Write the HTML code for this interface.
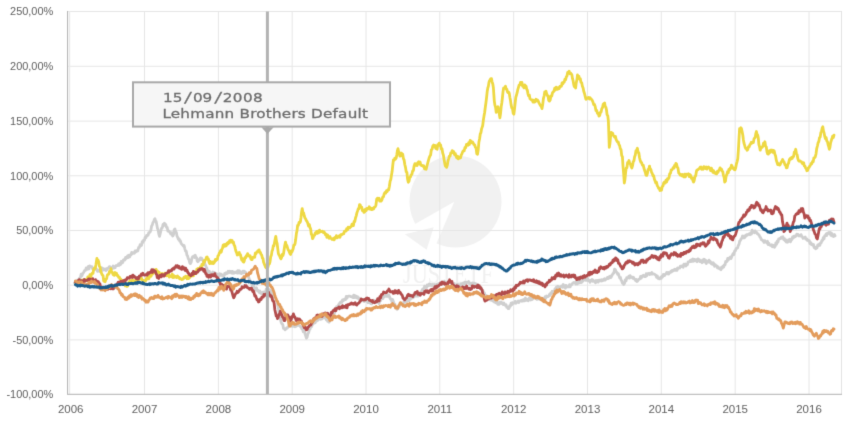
<!DOCTYPE html>
<html><head><meta charset="utf-8"><title>Chart</title>
<style>html,body{margin:0;padding:0;background:#fff;width:847px;height:428px;overflow:hidden}svg{display:block}</style>
</head><body>
<div id="c"><svg width="847" height="428" viewBox="0 0 847 428">
<defs><filter id="soft" x="0" y="0" width="100%" height="100%" color-interpolation-filters="sRGB"><feConvolveMatrix order="3" kernelMatrix="0.0081 0.0900 0.0081 0.0900 0.6076 0.0900 0.0081 0.0900 0.0081" edgeMode="duplicate"/></filter></defs><g filter="url(#soft)"><rect x="0" y="0" width="847" height="428" fill="#ffffff"/>
<circle cx="455.5" cy="201.5" r="46" fill="#f1f1f1"/>
<polygon points="454.3,201.8 404,230.2 404,253 432.4,253" fill="#ffffff"/>
<polygon points="404.9,234.3 433.7,227.3 426.6,249.7" fill="#f1f1f1"/>
<text x="448" y="283" text-anchor="middle" font-family="Liberation Serif, serif" font-size="28" fill="#f0f0f0" textLength="90" lengthAdjust="spacingAndGlyphs">JUSTETF</text>
<line x1="67" y1="11.5" x2="842" y2="11.5" stroke="#e6e6e6" stroke-width="1"/>
<line x1="67" y1="66.3" x2="842" y2="66.3" stroke="#e6e6e6" stroke-width="1"/>
<line x1="67" y1="121.1" x2="842" y2="121.1" stroke="#e6e6e6" stroke-width="1"/>
<line x1="67" y1="175.8" x2="842" y2="175.8" stroke="#e6e6e6" stroke-width="1"/>
<line x1="67" y1="230.5" x2="842" y2="230.5" stroke="#e6e6e6" stroke-width="1"/>
<line x1="67" y1="285.2" x2="842" y2="285.2" stroke="#e6e6e6" stroke-width="1"/>
<line x1="67" y1="339.9" x2="842" y2="339.9" stroke="#e6e6e6" stroke-width="1"/>
<line x1="69.4" y1="11" x2="69.4" y2="394" stroke="#e9e9e9" stroke-width="1.6"/>
<line x1="144.5" y1="11" x2="144.5" y2="394" stroke="#e6e6e6" stroke-width="1"/>
<line x1="218.4" y1="11" x2="218.4" y2="394" stroke="#e6e6e6" stroke-width="1"/>
<line x1="292.2" y1="11" x2="292.2" y2="394" stroke="#e6e6e6" stroke-width="1"/>
<line x1="366.0" y1="11" x2="366.0" y2="394" stroke="#e6e6e6" stroke-width="1"/>
<line x1="439.8" y1="11" x2="439.8" y2="394" stroke="#e6e6e6" stroke-width="1"/>
<line x1="513.7" y1="11" x2="513.7" y2="394" stroke="#e6e6e6" stroke-width="1"/>
<line x1="587.5" y1="11" x2="587.5" y2="394" stroke="#e6e6e6" stroke-width="1"/>
<line x1="661.3" y1="11" x2="661.3" y2="394" stroke="#e6e6e6" stroke-width="1"/>
<line x1="735.2" y1="11" x2="735.2" y2="394" stroke="#e6e6e6" stroke-width="1"/>
<line x1="809.0" y1="11" x2="809.0" y2="394" stroke="#e6e6e6" stroke-width="1"/>
<line x1="841.5" y1="11" x2="841.5" y2="394" stroke="#e3e3e3" stroke-width="1"/>
<line x1="67.5" y1="11" x2="67.5" y2="394.5" stroke="#b8b8b8" stroke-width="1"/>
<line x1="67" y1="394.3" x2="842" y2="394.3" stroke="#c0c0c0" stroke-width="1.2"/>
<polyline points="74.5,283.0 75.2,282.5 75.9,281.2 76.6,283.5 77.3,280.2 78.0,281.0 78.7,279.9 79.3,278.4 80.0,278.0 80.6,276.9 81.2,274.1 81.9,275.9 82.5,274.0 83.2,272.9 84.0,271.7 84.7,270.4 85.5,270.3 86.2,267.8 87.0,268.0 87.7,269.2 88.4,266.3 89.0,268.9 89.7,265.8 90.4,266.5 91.1,266.7 91.9,266.6 92.6,268.7 93.4,268.5 94.1,269.2 94.8,269.4 95.4,267.8 96.1,269.2 96.8,269.3 97.5,271.4 98.1,270.5 98.8,270.1 99.5,271.4 100.3,269.7 101.0,270.4 101.8,267.8 102.5,270.3 103.3,268.6 104.0,269.0 104.7,269.8 105.3,269.1 106.0,270.5 106.7,268.8 107.3,269.4 108.0,268.0 108.7,267.8 109.3,266.6 110.0,266.6 110.6,267.4 111.2,268.4 111.9,267.5 112.6,268.4 113.2,266.0 113.9,268.1 114.6,267.3 115.2,267.6 115.9,265.6 116.5,265.8 117.2,265.2 117.9,265.6 118.5,264.0 119.2,265.4 119.9,263.2 120.6,264.6 121.2,261.4 121.9,263.0 122.7,262.6 123.4,260.0 124.2,259.5 124.9,260.0 125.6,257.4 126.3,258.3 127.0,256.8 127.7,255.8 128.4,257.5 129.0,255.3 129.7,256.9 130.4,254.7 131.1,254.8 131.7,252.3 132.4,253.5 133.1,253.0 133.7,252.5 134.4,253.3 135.1,250.9 135.8,251.8 136.4,250.8 137.1,251.2 137.8,250.9 138.6,247.5 139.3,247.6 140.1,244.8 140.8,245.8 141.5,245.4 142.2,241.7 142.9,242.3 143.6,240.2 144.4,240.4 145.1,237.3 145.9,237.8 146.6,235.4 147.4,235.5 148.1,235.0 148.8,232.7 149.5,232.6 150.2,231.8 150.9,229.9 151.6,226.1 152.3,225.0 153.0,222.4 153.6,221.8 154.3,219.6 154.9,218.7 155.5,220.9 156.1,221.4 156.7,224.3 157.4,228.1 158.1,230.0 158.8,233.8 159.5,236.4 160.2,233.7 160.9,230.7 161.6,228.2 162.3,227.8 163.0,224.5 163.7,225.6 164.4,223.3 165.1,224.0 165.8,224.7 166.5,227.4 167.2,227.5 167.9,231.2 168.6,230.7 169.3,231.7 170.0,232.4 170.7,233.9 171.4,232.7 172.1,235.2 172.8,236.0 173.5,234.7 174.2,229.8 174.9,228.9 175.6,231.5 176.3,232.3 177.0,236.0 177.7,237.3 178.4,239.4 179.0,238.7 179.7,241.1 180.3,240.6 181.0,243.0 181.8,244.4 182.5,244.7 183.3,246.0 184.0,245.4 184.8,248.6 185.5,251.1 186.2,251.1 186.9,255.0 187.6,256.1 188.3,258.7 189.0,259.6 189.7,262.6 190.4,263.6 191.2,262.0 191.9,258.3 192.7,256.6 193.3,256.8 194.0,256.0 194.7,257.5 195.3,255.3 195.9,257.3 196.6,257.5 197.2,261.0 197.8,261.7 198.5,261.1 199.1,259.4 199.8,259.7 200.4,257.9 201.1,259.6 201.7,258.3 202.3,259.6 203.0,260.4 203.7,262.1 204.3,261.4 204.9,264.0 205.6,265.6 206.2,266.9 206.8,267.9 207.5,271.6 208.1,270.7 208.7,272.2 209.4,271.4 210.0,273.6 210.7,274.3 211.4,273.1 212.1,273.3 212.8,272.0 213.5,272.8 214.2,272.5 214.9,273.9 215.6,273.2 216.3,274.7 217.0,274.1 217.7,275.8 218.4,274.6 219.1,275.7 219.8,273.8 220.6,275.4 221.3,274.2 222.0,275.5 222.7,276.1 223.4,275.1 224.1,275.5 224.7,273.5 225.4,274.3 226.1,272.8 226.8,273.6 227.5,273.1 228.2,271.2 228.9,272.7 229.6,271.2 230.3,272.4 231.0,271.5 231.7,273.1 232.3,271.4 233.0,273.4 233.7,272.1 234.3,273.0 235.0,272.1 235.6,272.5 236.3,272.0 237.0,273.1 237.8,270.7 238.5,273.0 239.3,270.8 240.0,273.1 240.8,272.1 241.5,273.6 242.2,272.9 242.9,271.1 243.7,272.8 244.4,271.2 245.1,272.5 245.8,272.5 246.6,273.8 247.4,275.0 248.1,276.7 248.9,277.8 249.5,279.8 250.2,280.8 250.8,282.0 251.5,283.2 252.1,285.1 252.9,287.6 253.6,286.1 254.4,288.9 255.2,289.3 255.8,289.9 256.5,287.8 257.1,290.5 257.8,290.2 258.4,291.4 259.2,292.4 259.9,291.0 260.7,293.4 261.5,293.5 262.1,293.2 262.8,292.1 263.4,293.8 264.1,292.0 264.7,292.5 265.5,292.7 266.2,289.2 267.0,289.8 267.8,289.3 268.4,290.3 269.1,289.6 269.7,291.4 270.4,289.9 271.0,291.4 271.8,293.4 272.6,293.9 273.3,295.6 274.1,296.7 274.7,298.0 275.4,298.0 276.0,300.4 276.7,300.6 277.3,302.0 277.9,306.0 278.6,309.3 279.2,314.0 279.9,315.2 280.6,320.2 281.2,322.3 282.0,324.0 282.7,324.3 283.5,328.5 284.2,328.7 285.0,329.8 285.7,329.2 286.5,328.0 287.2,328.1 288.0,326.9 288.7,326.1 289.4,326.2 290.1,324.9 290.8,325.8 291.5,324.8 292.2,326.4 292.9,324.4 293.6,326.3 294.3,325.1 295.0,326.7 295.7,325.2 296.4,326.2 297.1,324.4 297.8,325.1 298.5,325.4 299.2,325.3 299.9,326.1 300.6,326.7 301.2,327.3 301.9,329.1 302.6,329.2 303.3,331.9 303.9,330.2 304.6,331.7 305.2,334.4 305.8,336.1 306.4,338.2 307.1,337.3 307.9,333.7 308.6,332.6 309.3,329.8 310.0,329.1 310.8,325.4 311.5,326.8 312.3,324.7 313.0,324.2 313.7,323.1 314.4,321.8 315.1,322.9 315.8,320.4 316.5,321.0 317.2,318.5 317.9,320.2 318.6,318.6 319.3,318.7 320.0,317.9 320.7,319.4 321.4,317.1 322.1,318.9 322.8,316.5 323.5,317.8 324.2,316.7 324.9,318.0 325.6,317.8 326.3,319.7 327.0,318.7 327.7,321.4 328.4,320.0 329.1,322.2 329.8,320.5 330.6,319.5 331.3,317.7 332.1,316.1 332.8,313.7 333.6,313.0 334.3,313.6 335.1,309.4 335.8,310.7 336.6,306.6 337.3,307.4 338.0,306.1 338.8,304.5 339.5,303.4 340.3,302.4 341.0,301.8 341.8,302.4 342.5,299.9 343.3,300.8 344.0,299.4 344.8,299.0 345.5,299.6 346.3,296.4 347.0,298.1 347.8,296.3 348.5,296.2 349.2,296.1 350.0,296.1 350.7,296.6 351.5,296.7 352.2,297.1 353.0,297.6 353.7,295.1 354.5,297.5 355.2,295.7 356.0,296.2 356.7,297.9 357.5,296.7 358.2,298.6 359.0,298.0 359.7,299.9 360.5,300.9 361.2,298.9 362.0,300.7 362.7,299.6 363.5,300.8 364.2,301.5 365.0,300.5 365.7,300.8 366.5,300.7 367.2,301.8 367.9,302.7 368.7,301.0 369.4,302.8 370.2,302.9 370.9,303.6 371.7,303.8 372.4,302.0 373.2,302.2 373.9,300.2 374.7,301.8 375.4,302.4 376.2,301.0 376.9,302.3 377.7,301.4 378.4,302.7 379.1,303.5 379.9,300.1 380.6,300.7 381.4,298.1 382.1,298.0 382.9,298.5 383.6,296.0 384.4,296.8 385.1,295.7 385.9,295.2 386.6,296.3 387.4,294.6 388.1,296.4 388.9,295.1 389.6,297.1 390.4,299.0 391.1,298.9 391.9,301.5 392.6,299.5 393.4,301.8 394.1,304.8 394.9,304.1 395.6,307.3 396.4,307.2 397.1,309.3 397.8,308.7 398.6,306.7 399.3,306.6 400.1,304.9 400.8,304.6 401.6,304.7 402.3,303.9 403.1,304.6 403.8,301.8 404.6,301.8 405.3,302.3 406.1,300.7 406.8,301.2 407.6,299.3 408.3,299.9 409.1,300.9 409.8,297.6 410.6,299.1 411.3,298.2 412.1,298.0 412.8,297.8 413.6,297.1 414.3,296.1 415.1,294.9 415.8,296.2 416.5,296.2 417.3,293.3 418.0,296.1 418.8,294.2 419.5,294.3 420.3,294.1 421.0,292.5 421.8,291.0 422.5,289.3 423.3,288.7 424.0,289.4 424.6,286.2 425.3,287.0 425.9,286.4 426.6,287.5 427.2,284.9 427.9,285.9 428.6,285.8 429.4,283.9 430.1,285.3 430.8,284.5 431.5,285.6 432.3,284.4 433.0,285.0 433.7,286.1 434.3,284.5 435.0,285.9 435.7,284.7 436.3,285.8 437.0,284.2 437.7,285.4 438.3,283.6 439.0,284.0 439.7,283.2 440.3,282.7 441.0,284.6 441.7,284.1 442.3,284.0 443.0,283.2 443.7,284.0 444.3,281.2 445.0,283.0 445.7,283.7 446.4,282.6 447.1,284.6 447.9,283.0 448.6,282.6 449.3,282.4 450.0,283.0 450.7,283.2 451.3,282.6 452.0,284.1 452.7,284.1 453.3,284.2 454.0,283.6 454.7,285.9 455.3,284.9 456.0,285.0 456.7,285.3 457.3,284.3 458.0,286.7 458.7,284.7 459.3,286.1 460.0,284.8 460.7,284.5 461.3,283.6 462.0,284.0 462.7,284.7 463.5,282.9 464.2,284.1 465.0,282.1 465.7,283.9 466.5,282.1 467.2,282.4 467.9,282.4 468.6,281.6 469.2,283.6 469.9,283.0 470.6,284.5 471.3,283.2 472.0,284.1 472.7,283.0 473.3,284.2 474.0,283.1 474.7,283.3 475.4,284.6 476.0,284.0 476.7,285.2 477.4,284.4 478.0,286.4 478.7,286.8 479.3,287.6 480.0,288.0 480.7,289.1 481.4,288.3 482.1,290.9 482.9,290.6 483.6,293.5 484.3,292.8 485.0,295.0 485.7,296.4 486.3,295.8 487.0,297.6 487.6,296.1 488.3,298.3 488.9,296.9 489.6,299.2 490.3,300.1 491.0,300.2 491.6,300.3 492.3,299.1 493.0,301.1 493.7,299.7 494.4,302.1 495.1,302.0 495.7,302.7 496.4,301.1 497.1,302.9 497.8,304.3 498.5,302.7 499.1,304.4 499.8,302.3 500.5,303.3 501.2,301.9 501.9,303.5 502.6,303.3 503.2,304.5 503.9,303.0 504.6,304.8 505.3,305.3 506.1,304.8 506.8,307.4 507.6,306.9 508.3,308.6 509.0,308.5 509.7,305.8 510.4,306.3 511.1,303.1 511.8,304.8 512.5,302.7 513.2,303.5 513.9,302.9 514.6,303.1 515.3,301.3 516.0,303.2 516.7,302.5 517.4,301.9 518.1,301.1 518.8,302.5 519.5,301.1 520.2,300.8 521.0,300.4 521.8,301.2 522.5,299.9 523.2,300.9 524.0,299.5 524.7,300.7 525.4,298.0 526.1,300.4 526.8,299.3 527.5,299.5 528.2,300.8 528.9,298.4 529.5,299.3 530.2,297.7 530.9,300.0 531.6,298.4 532.3,299.4 533.0,296.8 533.6,298.4 534.3,296.4 535.0,297.6 535.7,297.9 536.3,297.7 537.0,299.4 537.7,297.0 538.4,298.8 539.0,297.8 539.7,299.3 540.4,298.1 541.1,299.7 541.7,298.2 542.4,298.6 543.1,299.6 543.8,298.1 544.5,299.1 545.2,296.6 545.9,298.2 546.6,296.0 547.3,296.6 548.0,296.7 548.7,296.2 549.4,294.4 550.1,295.2 550.8,292.9 551.5,293.4 552.2,291.3 552.9,292.9 553.6,291.1 554.3,291.5 555.0,288.9 555.7,288.4 556.5,287.0 557.2,287.7 557.9,286.2 558.6,287.6 559.3,287.3 560.0,287.7 560.6,286.4 561.3,286.4 562.0,285.7 562.7,287.2 563.3,284.5 564.0,287.1 564.7,285.8 565.4,288.2 566.0,285.3 566.7,286.4 567.4,286.9 568.1,286.8 568.8,286.9 569.5,284.7 570.2,286.9 570.9,284.8 571.6,284.7 572.3,283.6 573.0,283.1 573.7,282.4 574.4,282.6 575.1,282.9 575.8,283.9 576.5,281.5 577.2,284.0 577.9,282.7 578.6,283.0 579.3,280.3 580.0,282.7 580.8,280.6 581.5,282.5 582.2,280.6 582.9,281.2 583.6,279.9 584.3,279.8 585.0,278.1 585.7,280.2 586.4,279.5 587.1,280.4 587.8,278.6 588.5,280.6 589.2,280.8 589.9,282.2 590.6,280.4 591.3,280.6 592.0,279.4 592.7,281.3 593.4,280.3 594.1,281.4 594.8,281.7 595.5,282.8 596.2,280.5 596.9,281.0 597.6,280.5 598.3,282.1 599.0,280.1 599.7,280.6 600.4,279.9 601.1,281.1 601.8,279.8 602.5,280.7 603.2,279.6 603.9,280.2 604.6,278.7 605.3,280.0 606.0,278.9 606.7,278.8 607.4,277.5 608.1,278.6 608.8,277.0 609.5,277.9 610.2,276.1 610.9,277.5 611.6,276.1 612.3,274.8 613.1,273.3 613.8,273.2 614.6,269.1 615.3,269.6 616.1,271.8 616.8,272.4 617.6,274.2 618.3,273.8 619.1,276.1 619.8,278.1 620.4,277.4 621.1,280.0 621.7,280.8 622.4,283.0 623.0,282.8 623.7,284.5 624.5,283.5 625.2,279.8 626.0,280.9 626.7,277.7 627.5,278.0 628.2,277.6 628.8,276.2 629.5,278.1 630.1,275.7 630.8,277.4 631.4,276.7 632.1,277.1 632.8,278.3 633.5,277.3 634.2,279.1 635.0,279.2 635.7,280.7 636.4,279.5 637.1,281.5 637.8,280.8 638.5,279.8 639.2,279.1 639.9,278.9 640.6,276.4 641.3,278.1 642.0,276.2 642.7,275.8 643.4,275.2 644.1,276.5 644.8,276.7 645.5,276.6 646.2,273.8 646.9,275.6 647.6,273.7 648.3,273.8 649.0,273.3 649.7,274.5 650.4,273.5 651.1,274.1 651.8,272.5 652.5,274.1 653.2,273.7 653.9,274.0 654.6,274.3 655.3,274.8 655.9,275.3 656.6,277.3 657.3,276.0 658.0,278.4 658.6,278.0 659.3,278.9 660.0,278.8 660.6,277.4 661.3,278.3 661.9,276.2 662.6,276.8 663.2,274.5 663.9,274.3 664.6,275.5 665.3,274.2 666.0,273.9 666.7,272.5 667.4,273.9 668.1,272.4 668.8,274.0 669.5,272.4 670.2,272.5 670.9,271.3 671.5,271.9 672.2,270.5 672.9,271.0 673.6,270.0 674.3,270.3 674.9,269.2 675.6,270.3 676.3,269.2 677.0,270.3 677.7,268.0 678.4,268.4 679.1,267.7 679.7,267.9 680.4,266.1 681.1,266.6 681.8,265.8 682.5,266.1 683.2,267.3 683.9,264.2 684.6,264.8 685.3,264.1 686.0,266.0 686.7,264.1 687.4,264.6 688.1,261.9 688.8,261.9 689.5,261.7 690.2,260.4 690.9,261.5 691.6,259.7 692.3,261.2 693.0,259.0 693.7,261.2 694.4,259.4 695.1,259.8 695.8,260.9 696.5,259.8 697.2,261.7 697.9,258.8 698.5,260.9 699.2,259.6 699.9,261.6 700.6,260.7 701.3,261.9 702.0,262.7 702.7,259.8 703.4,261.9 704.1,259.3 704.8,262.0 705.5,260.1 706.2,263.6 706.9,261.1 707.6,261.9 708.3,262.1 709.0,260.1 709.7,262.2 710.4,261.6 711.1,263.5 711.8,262.8 712.5,264.3 713.2,262.8 713.9,264.0 714.6,266.3 715.3,264.7 716.0,265.9 716.7,266.0 717.4,267.8 718.1,266.8 718.8,268.4 719.5,268.3 720.2,269.2 720.9,269.7 721.6,267.2 722.3,268.1 723.0,266.2 723.6,267.1 724.3,265.0 725.0,264.9 725.7,261.5 726.4,261.9 727.1,261.3 727.7,258.3 728.4,259.9 729.0,258.0 729.7,257.8 730.4,257.0 731.0,258.6 731.7,256.7 732.4,255.1 733.2,253.5 733.9,254.5 734.7,250.8 735.4,250.8 736.2,248.6 736.9,248.3 737.6,247.8 738.3,245.4 739.0,244.3 739.7,241.1 740.4,240.5 741.1,238.9 741.8,238.3 742.5,236.0 743.2,237.8 743.8,236.1 744.5,237.7 745.2,235.8 745.9,236.3 746.6,234.6 747.3,235.3 748.0,234.6 748.7,234.0 749.4,233.7 750.1,234.7 750.8,232.8 751.5,234.0 752.2,230.1 752.9,232.1 753.6,231.6 754.3,232.8 755.0,230.9 755.7,232.0 756.4,232.1 757.1,233.6 757.8,233.7 758.5,234.6 759.2,235.2 759.9,237.0 760.6,237.6 761.3,239.6 762.0,239.9 762.7,240.5 763.4,241.0 764.0,242.4 764.7,240.6 765.4,241.6 766.1,242.0 766.8,242.9 767.5,241.3 768.2,244.7 768.9,243.3 769.6,245.1 770.3,245.2 771.0,245.6 771.7,244.8 772.4,246.7 773.1,245.3 773.8,246.8 774.5,247.2 775.2,246.1 775.9,242.9 776.6,244.2 777.3,241.0 778.0,242.0 778.7,238.9 779.4,239.0 780.1,238.2 780.8,238.6 781.5,237.2 782.2,237.1 782.9,236.8 783.6,239.5 784.3,238.4 785.0,240.7 785.6,239.7 786.3,242.0 787.0,242.0 787.7,242.2 788.4,240.0 789.1,240.9 789.8,239.1 790.5,241.8 791.2,239.9 791.9,239.5 792.6,237.0 793.3,237.9 794.0,236.1 794.7,236.9 795.4,235.8 796.1,236.0 796.8,234.1 797.5,235.0 798.2,234.5 798.9,236.0 799.6,235.8 800.3,236.0 801.0,234.6 801.7,236.0 802.4,236.8 803.1,238.3 803.8,237.8 804.5,237.9 805.2,237.0 805.8,239.1 806.5,238.7 807.2,240.3 807.9,239.9 808.6,240.9 809.3,240.7 810.0,243.6 810.7,242.6 811.4,244.6 812.1,244.1 812.8,245.3 813.5,244.6 814.2,247.7 814.9,247.0 815.6,248.7 816.3,248.3 817.0,247.8 817.7,245.0 818.4,245.8 819.1,244.2 819.8,245.3 820.5,243.1 821.2,242.8 821.9,240.3 822.6,240.4 823.3,237.7 824.0,238.9 824.7,235.8 825.4,235.6 826.1,234.0 826.8,235.5 827.4,233.2 828.1,233.2 828.8,232.6 829.5,233.7 830.2,232.5 830.9,235.4 831.6,233.3 832.3,236.0 833.0,234.7 833.7,236.5 834.4,234.5 835.1,235.8" fill="none" stroke="#cfcfcf" stroke-width="2.8" stroke-linejoin="round" stroke-linecap="round"/>
<polyline points="75.4,281.8 76.1,283.9 76.7,281.5 77.4,283.4 78.0,282.2 78.7,283.4 79.3,281.3 80.0,281.5 80.8,282.1 81.5,281.0 82.3,280.0 83.0,280.9 83.8,281.0 84.5,281.2 85.2,279.5 85.8,279.7 86.5,280.0 87.1,280.7 87.8,276.9 88.4,277.0 89.2,277.8 89.9,274.7 90.7,277.1 91.4,274.6 92.2,273.2 93.0,273.4 93.7,269.1 94.5,268.0 95.2,268.5 95.9,264.8 96.9,258.4 97.5,260.5 98.1,260.2 98.7,262.0 99.4,266.3 100.1,267.3 100.8,271.4 101.5,273.2 102.2,274.9 103.0,275.4 103.7,280.9 104.4,281.5 105.1,281.8 105.9,279.0 106.6,278.8 107.4,274.8 108.1,274.3 108.8,274.3 109.5,271.3 110.2,271.9 110.9,268.7 111.6,272.1 112.3,272.1 113.0,274.3 113.7,275.2 114.4,275.3 115.1,272.5 115.8,273.1 116.5,273.4 117.2,275.6 117.9,275.4 118.6,277.4 119.3,277.1 120.0,278.9 120.8,279.1 121.5,281.7 122.3,280.4 123.0,281.8 123.8,283.6 124.5,284.3 125.3,285.9 126.0,285.4 126.8,286.4 127.6,286.1 128.3,283.0 129.1,284.0 129.8,280.9 130.6,280.8 131.3,281.1 131.9,280.1 132.6,281.2 133.3,280.5 134.0,281.5 134.6,280.7 135.3,280.7 136.0,280.1 136.7,280.5 137.3,279.9 138.0,280.8 138.7,278.8 139.3,276.9 140.0,278.4 140.7,279.0 141.5,278.2 142.2,280.4 142.9,280.2 143.6,280.9 144.4,280.6 145.1,281.0 145.8,280.7 146.6,278.1 147.3,279.0 148.1,276.7 148.8,278.9 149.6,276.0 150.3,275.8 151.0,276.3 151.8,273.2 152.5,274.1 153.2,271.0 153.9,272.6 154.7,269.9 155.4,271.5 156.1,269.4 156.8,271.5 157.6,271.2 158.3,272.8 159.1,272.2 159.8,274.2 160.6,273.9 161.3,274.7 162.1,273.4 162.8,275.3 163.5,274.3 164.2,275.7 165.0,273.2 165.7,274.6 166.4,275.8 167.2,274.2 167.9,275.6 168.6,273.7 169.3,277.1 170.1,275.8 170.8,275.8 171.5,276.7 172.3,274.0 173.0,277.7 173.8,275.5 174.5,277.3 175.3,276.4 176.0,277.1 176.7,277.6 177.5,275.9 178.2,277.2 178.9,277.1 179.6,278.8 180.4,278.5 181.1,279.1 181.8,279.6 182.6,278.6 183.3,279.0 184.1,277.1 184.8,277.6 185.6,276.2 186.3,277.1 187.0,278.7 187.8,276.3 188.5,278.6 189.2,275.8 189.9,277.4 190.7,275.5 191.4,275.8 192.1,275.9 192.7,274.2 193.4,275.7 194.0,272.0 194.7,273.6 195.3,272.6 196.1,273.5 196.8,269.2 197.6,271.2 198.3,268.4 199.1,268.8 199.8,269.0 200.5,266.7 201.2,268.3 201.9,264.5 202.6,265.3 203.2,264.7 203.8,260.9 204.5,262.1 205.1,260.1 205.8,259.5 206.4,257.4 207.1,256.9 207.7,259.0 208.4,258.9 209.0,262.1 209.7,263.5 210.3,261.4 210.9,263.3 211.6,262.7 212.2,263.4 212.8,261.9 213.5,263.5 214.1,262.7 214.8,261.5 215.4,259.4 216.0,260.5 216.7,259.5 217.3,259.5 218.0,255.8 218.7,255.2 219.3,253.1 220.0,252.4 220.6,250.7 221.2,252.3 221.9,249.2 222.5,248.3 223.2,245.1 223.8,244.7 224.4,246.4 225.1,244.4 225.7,246.0 226.3,245.6 227.0,243.1 227.7,244.1 228.3,242.1 228.9,243.1 229.6,240.6 230.2,242.3 230.8,240.2 231.5,240.9 232.1,240.5 232.8,242.8 233.4,242.1 234.0,244.8 234.7,245.9 235.3,248.6 236.0,251.4 236.6,252.7 237.3,255.0 237.9,254.8 238.6,253.1 239.2,252.4 239.8,254.7 240.5,254.7 241.1,257.6 241.8,260.1 242.4,258.6 243.0,261.6 243.7,262.1 244.3,260.8 245.0,257.5 245.7,257.9 246.3,255.6 246.9,256.1 247.6,253.7 248.2,254.9 248.8,255.6 249.5,256.5 250.1,255.8 250.8,258.8 251.4,259.5 252.1,259.5 252.7,257.4 253.3,257.5 254.0,256.9 254.7,257.2 255.3,253.2 256.0,253.7 256.6,252.4 257.2,251.6 257.9,250.8 258.5,251.9 259.1,249.9 259.8,252.3 260.4,252.4 261.1,254.5 261.7,255.0 262.4,258.1 263.0,258.5 263.6,262.3 264.3,264.0 265.0,265.8 265.6,267.2 266.4,268.0 267.1,265.9 267.9,267.2 268.6,264.1 269.4,264.0 270.0,261.8 270.7,256.8 271.4,255.1 272.0,251.1 272.6,249.9 273.3,245.6 273.9,246.0 274.5,242.8 275.2,239.0 275.8,236.4 276.5,241.5 277.1,243.4 277.8,249.0 278.4,253.7 279.0,255.0 279.7,256.1 280.4,258.0 281.0,258.8 281.6,257.4 282.2,254.4 282.9,255.6 283.5,253.7 284.2,249.3 284.8,245.2 285.5,242.1 286.1,244.8 286.8,245.3 287.4,247.3 288.0,249.4 288.7,250.5 289.4,252.3 290.0,253.7 290.6,254.5 291.2,251.0 291.9,252.0 292.5,250.5 293.1,249.0 293.8,245.2 294.5,245.0 295.1,243.4 295.7,239.3 296.4,233.4 297.0,230.9 297.6,225.5 298.3,225.5 299.0,222.5 299.7,222.8 300.4,221.7 301.0,217.5 301.6,211.9 302.2,208.6 302.9,212.6 303.6,212.8 304.3,216.0 305.0,218.0 305.7,219.1 306.4,220.6 307.2,221.7 307.9,223.6 308.6,226.1 309.3,224.5 310.0,227.7 310.7,229.2 311.3,234.4 311.9,234.5 312.5,238.6 313.2,237.6 313.9,235.6 314.6,235.4 315.3,233.0 316.0,233.3 316.7,231.5 317.4,233.4 318.1,231.1 318.8,232.7 319.5,230.1 320.2,231.9 320.9,231.1 321.7,231.7 322.4,231.3 323.2,232.4 323.9,231.7 324.7,233.0 325.4,234.6 326.2,234.2 326.9,237.4 327.7,235.1 328.4,236.7 329.1,238.3 329.9,236.6 330.6,238.1 331.4,238.6 332.1,239.5 332.8,239.3 333.5,238.3 334.2,239.8 335.0,237.4 335.7,238.1 336.4,235.6 337.1,237.9 337.8,236.7 338.5,237.0 339.3,235.8 340.0,237.2 340.8,234.6 341.5,234.8 342.2,234.5 343.0,233.7 343.7,233.7 344.5,231.2 345.2,231.1 346.0,231.1 346.7,228.7 347.5,229.8 348.2,227.2 349.0,227.3 349.7,228.0 350.5,226.8 351.2,226.6 352.0,224.2 352.7,225.5 353.4,225.6 354.1,221.4 354.8,221.6 355.5,218.0 356.2,215.8 356.9,212.9 357.6,210.9 358.3,208.6 358.9,208.7 359.6,204.6 360.2,204.9 360.9,207.1 361.7,207.1 362.4,210.7 363.2,210.1 363.9,212.4 364.7,211.8 365.4,209.3 366.2,210.6 366.9,208.4 367.7,208.6 368.4,208.9 369.2,206.8 369.9,209.0 370.7,208.0 371.4,209.6 372.1,209.7 372.9,208.1 373.6,208.9 374.4,207.0 375.1,206.8 375.9,205.3 376.7,199.2 377.5,198.2 378.2,199.4 379.0,198.2 379.7,201.1 380.5,199.8 381.2,201.0 382.0,199.6 382.7,197.2 383.5,196.7 384.2,193.8 385.0,192.6 385.7,193.1 386.5,190.6 387.2,191.6 388.0,189.6 388.7,189.8 389.4,186.3 390.1,181.2 390.8,179.5 391.5,174.9 392.1,171.6 392.8,165.0 393.4,159.9 394.1,160.3 394.8,158.1 395.5,159.1 396.2,158.0 396.8,154.7 397.4,150.6 398.0,148.7 398.6,151.6 399.3,153.4 399.9,156.2 400.6,156.0 401.3,153.0 402.0,154.7 402.7,154.3 403.4,158.6 404.1,160.0 404.8,164.5 405.5,167.4 406.2,171.8 406.9,172.4 407.6,179.3 408.3,182.3 409.0,181.3 409.7,177.5 410.4,177.2 411.1,174.9 411.9,174.3 412.6,171.0 413.4,170.5 414.1,165.9 414.9,163.6 415.6,165.2 416.4,163.9 417.1,165.5 417.9,162.7 418.6,161.8 419.3,163.8 420.1,162.0 420.8,165.1 421.6,165.6 422.3,165.5 423.1,166.4 423.8,165.8 424.6,168.9 425.3,169.0 426.1,169.3 426.8,166.5 427.6,163.5 428.3,160.8 429.1,158.1 429.8,156.2 430.6,155.0 431.3,150.0 432.1,149.1 432.8,146.0 433.6,145.0 434.3,146.3 435.0,145.4 435.7,148.4 436.4,148.7 437.1,149.3 437.8,144.7 438.5,145.4 439.2,143.1 439.9,145.0 440.6,145.0 441.3,148.9 442.0,148.7 442.7,153.0 443.4,155.1 444.1,159.6 444.8,163.6 445.4,166.2 446.0,164.5 446.6,167.4 447.3,165.2 448.0,160.8 448.7,158.6 449.4,156.2 450.1,156.0 450.8,152.9 451.5,153.0 452.2,150.6 453.0,152.6 453.7,151.7 454.5,154.5 455.2,153.4 456.0,156.2 456.7,157.7 457.5,156.3 458.2,158.8 459.0,157.2 459.7,158.0 460.5,157.9 461.2,155.1 462.0,153.6 462.7,151.6 463.5,150.6 464.2,150.8 465.0,147.3 465.7,147.8 466.5,144.3 467.2,145.0 467.9,145.2 468.7,142.7 469.4,144.5 470.2,140.3 470.9,141.2 471.7,142.7 472.4,141.9 473.2,143.1 473.9,144.5 474.7,145.0 475.4,147.3 476.1,148.0 476.8,153.9 477.5,154.3 478.2,150.0 478.9,142.0 479.6,138.7 480.3,133.7 480.9,132.7 481.5,129.2 482.1,127.3 482.7,125.5 483.4,119.9 484.0,116.1 484.6,112.8 485.3,107.3 485.9,103.0 486.5,98.1 487.2,91.6 487.8,88.0 488.4,86.1 489.0,82.2 489.6,80.6 490.2,79.6 490.9,78.6 491.5,78.7 492.1,81.8 492.8,84.0 493.4,88.0 494.3,101.1 494.9,105.1 495.6,107.3 496.2,112.3 496.8,111.2 497.4,108.0 498.0,106.7 498.6,110.5 499.3,114.0 499.9,117.9 500.5,113.9 501.2,106.5 501.8,103.0 502.4,98.0 503.0,91.9 503.6,88.0 504.2,87.7 504.9,87.3 505.5,86.2 506.1,88.9 506.8,89.1 507.4,91.8 508.0,92.5 508.7,92.1 509.3,93.6 509.9,97.4 510.5,100.6 511.1,104.9 511.8,107.9 512.5,108.6 513.2,113.3 513.9,114.2 514.5,109.1 515.2,102.7 515.8,97.4 516.4,95.3 517.1,92.9 517.7,89.9 518.4,87.6 519.1,85.2 519.8,85.0 520.5,82.4 521.2,84.4 521.9,82.4 522.6,86.3 523.3,86.2 524.0,87.9 524.7,84.9 525.4,85.8 526.1,86.2 526.7,89.2 527.3,90.1 527.9,93.6 528.6,95.9 529.3,94.9 530.0,98.7 530.7,99.3 531.5,99.9 532.2,99.9 533.0,102.1 533.7,100.3 534.5,102.1 535.2,101.6 536.0,99.3 536.7,100.9 537.5,100.1 538.2,101.1 539.0,102.8 539.7,104.2 540.5,105.7 541.2,106.2 542.0,108.6 542.7,104.6 543.4,98.7 544.1,96.0 544.8,91.8 545.4,92.5 546.0,91.3 546.6,93.6 547.3,95.4 548.0,95.7 548.7,100.3 549.4,101.1 550.2,100.0 550.9,96.0 551.7,96.1 552.4,93.1 553.2,91.8 553.9,91.5 554.7,88.3 555.4,90.0 556.2,87.2 556.9,88.0 557.7,89.3 558.4,87.6 559.2,88.6 559.9,86.4 560.7,86.2 561.4,86.3 562.1,82.9 562.8,83.8 563.5,82.4 564.2,82.1 564.9,79.3 565.6,79.6 566.3,76.8 567.0,75.9 567.7,72.3 568.4,72.5 569.1,71.2 569.8,73.7 570.5,73.0 571.2,73.8 571.9,75.0 572.5,78.7 573.1,80.7 573.7,84.3 574.3,86.6 575.0,86.5 575.6,88.0 576.2,83.0 576.9,79.8 577.5,75.0 578.2,77.0 578.9,76.3 579.6,79.3 580.3,78.7 581.0,82.4 581.7,82.8 582.4,86.3 583.1,88.0 583.8,91.6 584.5,93.5 585.2,96.3 585.9,99.3 586.6,98.8 587.3,98.0 588.0,97.9 588.7,97.4 589.4,99.0 590.1,97.8 590.8,98.8 591.5,99.3 592.2,100.3 593.0,102.2 593.7,104.6 594.5,104.4 595.2,106.7 596.0,110.6 596.7,110.4 597.5,113.4 598.2,113.2 599.0,116.1 599.7,115.4 600.4,112.3 601.1,112.1 601.8,108.6 602.5,107.7 603.2,104.2 603.9,103.6 604.6,103.0 605.2,106.5 605.9,107.4 606.5,110.0 607.1,114.8 607.8,115.8 608.4,121.2 609.3,147.4 609.9,143.7 610.6,136.4 611.2,132.4 611.9,134.8 612.6,133.2 613.3,135.2 614.0,136.2 614.7,137.3 615.4,136.4 616.1,139.4 616.8,140.8 617.5,141.9 618.2,141.9 618.9,144.5 619.6,145.5 620.3,148.8 621.0,149.5 621.7,155.6 622.4,156.7 623.0,166.2 623.7,174.5 624.3,183.0 624.9,179.8 625.6,172.6 626.2,168.0 626.9,167.9 627.6,162.5 628.3,162.4 629.0,160.5 629.7,163.5 630.4,163.9 631.1,166.5 631.8,168.0 632.5,165.9 633.2,161.7 633.9,160.9 634.6,156.7 635.3,154.9 636.0,150.5 636.7,150.3 637.4,148.3 638.1,152.5 638.8,152.7 639.5,157.5 640.2,160.5 640.9,162.3 641.7,162.8 642.4,165.1 643.2,165.2 643.9,168.0 644.6,170.4 645.3,172.1 646.0,175.2 646.7,175.4 647.4,173.5 648.1,169.5 648.8,169.5 649.5,166.1 650.2,169.6 650.9,169.5 651.6,172.5 652.3,173.6 653.0,175.8 653.7,175.7 654.4,179.3 655.1,181.0 655.8,182.9 656.5,182.2 657.2,185.4 657.9,186.5 658.6,188.3 659.3,188.1 660.0,190.5 660.7,190.0 661.5,190.2 662.2,186.4 663.0,186.0 663.7,182.9 664.5,182.0 665.2,183.1 666.0,180.1 666.7,181.9 667.5,178.7 668.2,179.2 669.0,177.7 669.7,173.7 670.5,173.2 671.2,169.9 672.0,169.8 672.7,168.6 673.3,167.5 674.0,168.1 674.6,165.4 675.3,165.9 675.9,163.3 676.6,164.2 677.3,167.2 678.0,168.1 678.7,172.9 679.4,173.6 680.2,175.1 680.9,174.4 681.7,175.8 682.4,174.4 683.2,176.4 683.9,176.9 684.7,174.2 685.4,176.9 686.2,174.1 686.9,174.5 687.7,174.8 688.4,173.8 689.2,176.6 689.9,174.6 690.7,175.4 691.4,178.3 692.1,177.7 692.8,180.2 693.5,182.0 694.2,180.6 695.0,176.3 695.7,175.8 696.5,171.0 697.2,169.8 697.9,169.8 698.7,168.9 699.4,168.5 700.2,167.2 700.9,167.0 701.7,169.2 702.4,168.3 703.2,169.2 703.9,166.7 704.7,167.9 705.4,168.6 706.2,166.9 706.9,169.1 707.7,167.4 708.4,167.0 709.1,167.8 709.9,168.3 710.6,170.6 711.4,168.2 712.1,169.8 712.9,172.2 713.6,170.8 714.4,173.0 715.1,172.4 715.9,173.6 716.6,173.9 717.3,171.4 718.0,172.4 718.6,170.6 719.3,170.0 720.0,167.9 720.7,169.8 721.4,169.0 722.1,171.0 722.8,171.7 723.4,175.4 724.1,177.4 724.7,182.0 725.4,181.2 726.1,176.2 726.8,174.7 727.5,171.7 728.2,172.9 728.9,169.3 729.6,170.0 730.3,167.9 730.9,168.2 731.5,165.1 732.1,166.1 732.8,168.2 733.5,168.0 734.3,169.7 735.0,169.8 735.7,167.7 736.4,164.0 737.1,161.6 737.8,158.6 738.4,149.9 739.0,138.7 739.6,128.7 740.2,129.7 740.9,127.7 741.5,128.7 742.1,131.6 742.8,135.0 743.4,139.9 744.0,143.3 744.6,145.1 745.2,147.4 745.8,148.6 746.5,148.4 747.1,150.2 747.8,149.5 748.5,146.7 749.2,146.7 749.9,144.6 750.6,144.1 751.3,142.2 752.0,143.2 752.7,142.7 753.3,142.7 754.0,139.0 754.6,138.0 755.2,137.6 755.8,133.7 756.4,131.5 757.0,134.2 757.7,135.1 758.3,138.0 758.9,144.5 759.6,146.9 760.2,150.2 760.8,148.4 761.5,147.1 762.1,147.4 762.8,146.5 763.5,143.2 764.2,144.2 764.9,141.8 765.6,146.3 766.3,147.0 767.0,152.0 767.7,153.9 768.4,154.1 769.1,151.0 769.8,152.7 770.5,150.2 771.2,151.3 772.0,150.1 772.7,152.3 773.5,150.4 774.2,151.1 774.9,154.3 775.6,156.0 776.3,160.2 777.0,162.3 777.7,164.5 778.4,163.6 779.1,164.9 779.8,165.1 780.5,163.8 781.2,162.1 781.9,161.2 782.6,159.5 783.4,161.4 784.1,162.1 784.9,164.7 785.6,165.1 786.4,167.9 787.1,167.7 787.9,164.1 788.6,163.1 789.4,159.6 790.1,158.6 790.8,159.2 791.5,157.5 792.2,158.4 792.9,156.7 793.6,156.6 794.3,152.0 795.0,151.7 795.7,149.3 796.4,153.3 797.1,154.6 797.8,158.6 798.5,160.5 799.2,161.2 800.0,161.0 800.7,161.5 801.5,161.8 802.2,163.3 802.9,163.8 803.6,162.6 804.3,165.9 805.0,166.1 805.6,168.0 806.3,168.9 806.9,170.7 807.6,170.5 808.3,168.0 809.0,167.6 809.7,166.1 810.4,165.3 811.1,163.4 811.8,163.7 812.5,161.4 813.2,161.8 813.9,157.8 814.6,157.9 815.3,156.7 816.0,154.0 816.7,148.6 817.4,146.0 818.1,142.7 818.8,141.5 819.5,137.8 820.2,137.1 820.9,132.4 821.5,131.4 822.2,128.0 822.8,126.8 823.4,130.8 824.1,132.9 824.7,136.2 825.4,138.7 826.1,137.5 826.8,140.9 827.5,141.8 828.1,144.8 828.7,146.5 829.3,149.3 829.9,147.6 830.6,142.9 831.2,140.8 831.9,138.8 832.6,136.3 833.3,137.5 834.0,135.2" fill="none" stroke="#eed843" stroke-width="2.8" stroke-linejoin="round" stroke-linecap="round"/>
<polyline points="75.4,282.0 76.1,282.1 76.7,281.7 77.4,282.6 78.0,280.7 78.7,282.0 79.3,279.7 80.0,281.0 80.7,282.4 81.4,280.6 82.1,281.9 82.8,281.1 83.6,281.9 84.3,279.5 85.0,281.3 85.7,280.5 86.4,280.3 87.1,280.4 87.8,280.2 88.5,278.9 89.2,280.4 89.9,279.0 90.6,279.6 91.3,280.0 92.0,281.3 92.7,278.6 93.4,281.4 94.1,280.3 94.8,282.8 95.5,279.7 96.2,282.3 96.9,281.0 97.6,282.2 98.4,281.8 99.1,283.4 99.9,283.8 100.6,287.4 101.4,289.0 102.1,287.1 102.9,288.9 103.6,287.8 104.4,289.3 105.1,289.3 105.8,288.6 106.5,289.3 107.2,288.0 107.9,289.3 108.6,288.0 109.3,288.5 110.0,288.3 110.7,288.7 111.4,287.4 112.1,288.7 112.8,286.1 113.5,288.9 114.2,286.7 114.9,287.2 115.6,285.5 116.3,286.1 116.9,283.8 117.6,283.9 118.3,282.1 119.0,284.5 119.6,281.8 120.3,282.7 121.0,281.3 121.7,282.9 122.3,281.3 123.0,280.8 123.7,281.5 124.4,280.3 125.1,281.5 125.8,279.7 126.6,279.6 127.3,277.6 128.0,278.1 128.7,278.0 129.4,278.1 130.1,276.4 130.8,276.7 131.5,276.0 132.2,277.5 132.9,275.2 133.6,277.1 134.3,276.2 135.0,277.4 135.8,277.7 136.5,278.9 137.3,277.4 138.0,279.0 138.7,278.4 139.3,276.0 140.0,275.8 140.7,275.8 141.5,273.9 142.2,275.0 142.9,273.3 143.6,274.6 144.4,275.2 145.1,275.2 145.8,275.2 146.6,274.0 147.3,275.1 148.1,272.7 148.8,273.6 149.6,272.7 150.3,272.0 151.0,272.3 151.8,269.8 152.5,272.5 153.2,269.8 153.9,271.2 154.7,270.7 155.4,271.3 156.1,274.0 156.7,274.4 157.3,277.7 158.0,277.8 158.7,278.5 159.3,275.7 159.9,276.4 160.6,275.2 161.3,276.9 162.1,274.5 162.8,275.8 163.5,274.7 164.2,276.1 165.0,274.7 165.7,273.3 166.4,273.2 167.2,273.0 167.9,272.4 168.6,270.6 169.3,272.1 170.1,270.7 170.8,270.7 171.5,270.8 172.1,269.1 172.8,269.4 173.4,268.2 174.0,269.1 174.7,267.5 175.3,267.4 176.0,265.8 176.6,267.1 177.3,265.6 177.9,266.2 178.5,267.8 179.2,266.4 179.8,268.4 180.5,268.4 181.1,268.8 181.7,269.3 182.4,266.6 183.0,268.9 183.7,267.4 184.3,268.1 185.0,270.2 185.6,268.1 186.3,270.9 186.9,269.9 187.6,272.0 188.2,273.2 188.9,273.5 189.5,274.8 190.2,274.7 190.8,275.8 191.4,275.3 192.1,273.1 192.7,274.6 193.4,271.4 194.0,272.6 194.6,273.6 195.3,272.2 195.9,273.5 196.6,272.2 197.2,272.0 197.8,272.0 198.5,269.9 199.1,270.5 199.8,269.1 200.4,268.8 201.1,269.3 201.7,268.6 202.3,269.1 203.0,269.0 203.7,271.2 204.4,269.4 205.1,271.7 205.8,273.7 206.4,273.9 207.0,276.4 207.7,275.6 208.5,277.2 209.2,275.2 210.0,276.7 210.6,277.0 211.3,274.8 211.9,275.9 212.6,274.8 213.2,275.1 214.0,275.9 214.8,273.6 215.5,276.1 216.3,276.7 217.0,277.6 217.7,277.6 218.4,278.8 219.1,281.9 219.8,282.2 220.5,284.6 221.2,286.5 221.9,284.3 222.6,285.1 223.2,286.4 223.9,285.4 224.5,288.6 225.2,287.5 225.8,288.3 226.5,289.1 227.2,286.3 227.9,286.7 228.6,286.6 229.3,286.3 230.0,287.2 230.7,290.2 231.4,289.7 232.1,292.5 232.9,295.5 233.7,297.8 234.4,296.6 235.1,294.5 235.8,293.5 236.5,293.2 237.1,291.3 237.8,292.5 238.4,292.0 239.1,290.9 239.8,289.6 240.5,289.3 241.3,289.1 242.1,286.8 242.8,287.6 243.6,287.2 244.3,287.4 244.9,285.5 245.6,286.2 246.3,285.7 247.0,287.4 247.6,287.5 248.2,288.2 248.9,288.3 249.5,289.3 250.2,288.1 250.8,289.2 251.5,288.1 252.1,289.9 252.8,291.5 253.5,291.0 254.2,293.5 254.9,296.1 255.6,295.8 256.3,297.8 257.0,299.8 257.7,299.4 258.4,302.0 259.1,301.7 259.8,299.7 260.5,298.8 261.2,299.4 261.9,297.2 262.6,296.7 263.3,297.0 264.0,294.5 264.7,295.6 265.4,294.4 266.0,294.2 266.6,295.0 267.3,293.5 267.9,294.7 268.6,292.4 269.2,295.0 269.9,294.6 270.6,296.4 271.3,296.0 272.0,297.8 272.7,300.6 273.4,301.1 274.1,303.0 274.9,310.0 275.6,313.0 276.2,316.0 276.9,316.2 277.5,318.6 278.2,317.5 278.9,314.4 279.6,314.6 280.3,311.1 281.0,313.6 281.8,314.4 282.5,316.9 283.3,317.7 284.0,320.5 284.8,320.6 285.5,317.5 286.3,316.6 287.0,314.9 287.8,314.9 288.5,316.8 289.2,316.9 289.9,320.9 290.6,320.5 291.3,319.5 292.0,316.4 292.7,317.0 293.4,313.9 294.1,316.2 294.8,316.8 295.5,318.4 296.2,320.5 296.9,320.5 297.7,318.8 298.4,320.4 299.2,318.9 299.9,319.5 300.6,322.1 301.4,321.1 302.1,323.4 302.9,324.2 303.6,326.1 304.3,327.6 305.0,326.7 305.7,328.9 306.4,329.8 307.2,329.4 307.9,327.3 308.7,326.7 309.4,325.6 310.2,325.1 310.9,325.0 311.7,323.0 312.4,322.4 313.2,319.9 313.9,318.6 314.7,318.3 315.4,317.6 316.2,317.8 316.9,315.3 317.7,314.9 318.4,316.7 319.2,315.5 319.9,316.6 320.7,315.8 321.4,316.7 322.1,316.5 322.9,313.9 323.6,314.9 324.4,313.4 325.1,313.0 325.8,314.9 326.4,313.2 327.1,315.3 327.8,313.3 328.5,316.9 329.1,316.1 329.8,316.7 330.6,315.5 331.3,312.3 332.1,313.0 332.8,311.1 333.6,310.2 334.3,310.5 335.1,308.8 335.8,310.7 336.6,308.3 337.3,308.3 338.0,308.0 338.8,307.1 339.5,308.7 340.3,307.0 341.0,307.4 341.8,307.9 342.5,305.7 343.3,307.4 344.0,306.3 344.8,306.4 345.5,307.3 346.3,305.2 347.0,307.8 347.8,304.6 348.5,304.6 349.2,304.7 350.0,303.8 350.7,304.1 351.5,302.9 352.2,303.6 353.0,304.3 353.7,303.5 354.5,304.0 355.2,302.7 356.0,304.6 356.7,305.0 357.5,304.1 358.2,303.3 359.0,302.9 359.7,301.8 360.5,301.0 361.2,299.0 362.0,299.6 362.7,299.6 363.5,299.9 364.2,300.1 365.0,299.3 365.7,299.8 366.5,298.2 367.2,298.0 367.9,298.6 368.7,298.4 369.4,300.3 370.2,300.2 370.9,300.8 371.7,301.6 372.4,300.5 373.2,302.4 373.9,302.1 374.7,302.7 375.4,301.8 376.2,301.0 376.9,301.8 377.7,298.6 378.4,299.0 379.1,300.9 379.9,296.7 380.6,297.9 381.4,294.6 382.1,294.3 382.9,294.1 383.6,292.0 384.4,292.5 385.1,292.8 385.9,292.4 386.6,292.5 387.4,290.8 388.1,290.9 388.9,289.0 389.6,290.6 390.4,291.9 391.1,291.7 391.9,292.1 392.6,291.6 393.4,293.4 394.1,293.2 394.9,290.7 395.6,292.9 396.4,291.1 397.1,291.5 397.8,293.2 398.6,290.4 399.3,292.9 400.1,292.3 400.8,293.4 401.6,294.7 402.3,295.5 403.1,298.4 403.8,298.3 404.6,299.9 405.3,298.8 406.1,298.1 406.8,297.4 407.6,295.1 408.3,294.3 409.1,295.6 409.8,294.9 410.6,295.8 411.3,295.5 412.1,296.2 412.8,296.7 413.6,294.8 414.3,294.7 415.1,292.6 415.8,292.4 416.5,293.0 417.3,291.5 418.0,294.3 418.8,292.9 419.5,294.3 420.3,295.2 421.0,293.5 421.8,293.6 422.5,293.6 423.3,293.4 424.0,294.3 424.6,291.5 425.3,291.9 425.9,290.8 426.6,292.0 427.2,290.8 427.9,292.4 428.6,292.7 429.3,290.9 430.0,291.1 430.8,289.8 431.5,291.1 432.2,289.1 432.9,290.7 433.6,288.9 434.3,288.5 435.0,286.7 435.7,288.3 436.4,286.1 437.1,287.3 437.8,285.8 438.5,286.0 439.2,285.2 439.9,284.2 440.7,283.0 441.4,284.4 442.2,282.0 442.9,282.4 443.6,283.4 444.4,282.8 445.1,284.3 445.9,283.7 446.6,284.3 447.4,284.7 448.1,282.0 448.9,282.4 449.6,279.8 450.4,281.4 451.1,282.4 451.9,281.4 452.6,285.0 453.4,284.9 454.1,286.1 454.8,286.2 455.5,286.7 456.2,287.5 456.9,285.8 457.6,287.6 458.3,286.3 459.0,289.1 459.7,288.0 460.4,287.9 461.1,288.4 461.8,289.5 462.5,286.9 463.2,288.9 463.9,287.6 464.6,288.4 465.3,287.1 466.0,288.5 466.7,286.0 467.4,288.1 468.1,288.2 468.8,289.1 469.5,288.3 470.2,289.6 470.9,288.9 471.6,289.0 472.3,285.9 473.0,287.3 473.7,286.1 474.4,287.2 475.1,286.6 475.8,286.6 476.5,286.1 477.2,287.6 477.9,285.2 478.6,287.6 479.3,285.8 480.0,288.2 480.7,287.5 481.4,289.1 482.1,289.9 482.8,294.1 483.6,295.1 484.3,299.0 485.0,301.1 485.7,300.7 486.3,298.8 487.0,300.1 487.6,298.3 488.3,299.2 488.9,297.1 489.6,298.3 490.3,298.1 491.0,297.5 491.7,298.0 492.4,297.0 493.1,297.2 493.8,295.7 494.5,296.1 495.2,295.5 495.9,296.1 496.6,294.4 497.3,294.7 498.0,293.9 498.7,295.1 499.4,293.2 500.1,294.8 500.8,293.6 501.5,294.7 502.2,291.9 502.9,293.9 503.6,292.9 504.3,294.2 505.0,291.9 505.7,293.2 506.4,292.7 507.1,293.2 507.8,291.2 508.5,293.3 509.2,291.2 510.0,291.5 510.7,289.8 511.4,291.1 512.1,289.9 512.8,291.2 513.5,288.6 514.2,289.8 514.9,286.8 515.6,287.8 516.3,285.3 517.0,285.9 517.7,285.2 518.4,285.3 519.0,284.0 519.7,283.9 520.3,282.3 521.0,283.0 521.7,282.7 522.3,282.1 523.0,283.0 523.6,281.0 524.3,283.0 524.9,280.8 525.6,280.8 526.3,280.1 527.1,279.8 527.8,281.4 528.6,279.9 529.3,279.9 530.0,280.0 530.7,280.1 531.4,280.8 532.1,280.2 532.9,281.1 533.6,279.7 534.3,281.9 535.0,281.7 535.7,282.2 536.4,280.8 537.1,282.5 537.8,281.5 538.5,283.2 539.2,281.8 539.9,283.8 540.6,282.7 541.3,284.4 542.1,283.2 542.8,285.5 543.6,284.7 544.3,285.5 545.0,286.9 545.8,284.3 546.5,285.2 547.3,282.6 548.0,282.7 548.7,282.2 549.3,280.3 550.0,281.3 550.7,280.1 551.4,280.2 552.0,277.8 552.7,278.9 553.4,278.6 554.2,277.1 554.9,278.7 555.6,275.3 556.4,276.2 557.1,273.7 557.8,275.9 558.6,273.0 559.3,274.3 560.0,276.1 560.7,274.6 561.4,276.3 562.1,275.6 562.8,276.1 563.5,274.9 564.2,277.1 564.9,276.1 565.6,276.1 566.3,275.1 567.0,276.3 567.7,276.0 568.4,277.2 569.1,274.7 569.8,277.0 570.5,276.1 571.2,277.0 571.9,275.2 572.6,276.2 573.3,274.9 574.0,276.7 574.7,275.2 575.4,277.8 576.1,278.0 576.8,279.6 577.5,278.0 578.2,279.0 578.9,277.6 579.6,279.0 580.3,277.1 581.0,277.0 581.7,277.1 582.4,278.1 583.1,276.1 583.8,277.2 584.5,275.5 585.2,277.0 585.9,276.1 586.6,276.1 587.3,275.2 588.0,275.1 588.8,272.6 589.5,275.0 590.3,272.2 591.0,273.3 591.7,274.0 592.4,272.1 593.1,272.8 593.8,271.1 594.5,272.1 595.2,270.0 595.9,272.3 596.6,272.4 597.3,272.5 598.0,270.9 598.7,271.6 599.4,268.0 600.1,268.7 600.8,266.7 601.5,267.9 602.2,267.7 602.9,268.5 603.6,267.4 604.3,269.0 605.0,267.2 605.8,268.1 606.5,266.5 607.2,267.3 607.9,266.8 608.6,265.8 609.4,264.2 610.1,264.9 610.9,263.0 611.6,263.0 612.3,262.6 612.9,260.3 613.6,261.4 614.3,259.2 615.0,260.4 615.6,257.9 616.3,258.4 617.0,260.5 617.8,259.7 618.5,263.4 619.3,263.4 620.0,264.9 620.7,266.5 621.4,266.5 622.1,268.9 622.8,268.6 623.5,267.7 624.3,265.3 625.0,264.6 625.8,262.7 626.5,262.1 627.3,262.9 628.0,261.0 628.8,262.0 629.5,260.8 630.3,261.2 631.0,261.6 631.8,261.9 632.5,263.3 633.3,262.3 634.0,263.0 634.8,265.0 635.5,263.7 636.3,264.2 637.0,263.6 637.8,264.9 638.5,264.2 639.3,262.7 640.0,263.3 640.8,261.5 641.5,260.2 642.2,261.0 643.0,260.0 643.7,262.5 644.5,261.3 645.2,262.1 646.0,262.3 646.7,259.8 647.5,260.3 648.2,259.1 649.0,258.4 649.7,258.6 650.5,257.3 651.2,257.1 652.0,255.5 652.7,256.5 653.4,257.4 654.1,255.9 654.8,257.1 655.5,256.2 656.2,258.0 656.9,257.3 657.6,259.3 658.3,259.3 659.1,260.1 659.8,256.7 660.6,257.6 661.3,254.7 662.1,255.6 662.8,256.3 663.5,252.6 664.2,253.6 664.9,252.8 665.6,253.2 666.4,253.1 667.1,255.5 667.9,255.8 668.6,258.0 669.3,258.2 670.0,255.4 670.7,255.5 671.4,253.7 672.1,254.2 672.8,254.0 673.5,254.9 674.2,252.5 674.9,253.9 675.6,252.9 676.3,255.4 677.0,254.3 677.7,256.4 678.4,255.6 679.1,255.9 679.8,254.6 680.5,256.4 681.1,253.4 681.8,254.8 682.5,253.5 683.2,254.4 683.9,252.4 684.6,253.6 685.3,252.1 686.0,253.1 686.7,251.4 687.4,251.4 688.1,251.0 688.8,251.8 689.5,249.9 690.2,250.7 690.9,248.3 691.6,248.1 692.3,246.6 693.0,247.5 693.7,246.0 694.4,247.8 695.1,246.2 695.8,247.2 696.5,244.2 697.2,245.9 697.9,244.3 698.5,245.0 699.2,244.6 699.9,245.9 700.6,243.7 701.3,244.1 702.0,244.0 702.7,242.8 703.4,243.7 704.1,242.8 704.8,245.0 705.5,246.2 706.2,245.7 706.9,244.3 707.6,244.3 708.3,241.2 709.0,242.7 709.7,240.0 710.4,239.7 711.1,237.2 711.8,238.9 712.5,238.4 713.2,239.7 713.9,237.8 714.7,239.0 715.5,238.9 716.2,240.3 717.0,240.0 717.6,243.0 718.3,243.6 718.9,245.4 719.6,245.3 720.2,247.2 721.0,245.3 721.8,241.4 722.5,240.2 723.3,236.8 724.1,237.2 724.8,234.9 725.6,234.8 726.4,233.7 727.0,233.9 727.7,233.1 728.3,235.8 729.0,234.8 729.6,235.8 730.4,238.4 731.2,236.4 731.9,239.4 732.7,239.9 733.5,237.6 734.2,236.2 735.0,235.8 735.8,233.7 736.4,231.7 737.1,228.9 737.7,227.9 738.4,224.0 739.0,222.2 739.8,221.9 740.5,219.9 741.3,219.5 742.1,218.0 742.9,217.2 743.7,214.9 744.4,216.2 745.2,214.9 745.8,214.6 746.5,212.2 747.1,212.1 747.8,209.9 748.4,210.7 749.2,210.3 750.0,207.5 750.7,207.9 751.5,205.4 752.3,206.6 753.0,205.8 753.8,208.0 754.6,207.5 755.3,206.5 756.0,203.9 756.7,202.3 757.3,204.3 758.0,203.4 758.6,205.6 759.3,205.3 759.9,207.5 760.7,210.3 761.5,210.0 762.2,212.1 763.0,212.8 763.8,211.3 764.5,209.7 765.3,209.8 766.1,206.5 766.7,209.6 767.4,208.9 768.0,211.0 768.7,210.1 769.3,210.7 770.1,211.1 770.8,210.1 771.6,213.7 772.4,213.8 773.2,213.1 774.0,209.9 774.7,208.8 775.5,206.5 776.1,207.6 776.8,207.5 777.4,209.2 778.1,208.3 778.7,209.6 779.5,212.0 780.2,212.5 781.0,214.6 781.8,214.9 782.5,221.8 783.2,225.0 783.9,231.6 784.7,230.8 785.5,225.8 786.2,226.1 787.0,223.2 787.6,224.9 788.3,225.2 788.9,228.2 789.6,228.1 790.2,231.6 791.0,229.5 791.8,226.1 792.5,225.6 793.3,222.2 794.1,220.9 794.8,216.0 795.6,215.0 796.4,213.8 797.0,214.0 797.7,212.7 798.3,213.6 799.0,210.7 799.6,210.7 800.4,211.8 801.2,208.7 801.9,209.8 802.7,208.6 803.4,212.2 804.1,213.8 804.8,218.0 805.6,217.3 806.3,215.6 807.1,216.0 807.9,215.9 808.5,218.3 809.2,217.9 809.8,220.8 810.5,220.2 811.1,222.2 811.9,225.1 812.7,226.9 813.4,229.8 814.2,231.6 815.0,234.0 815.8,234.7 816.5,237.9 817.3,238.9 818.0,235.5 818.7,231.8 819.4,228.4 820.0,229.0 820.7,226.1 821.3,226.7 822.0,224.3 822.6,224.3 823.3,224.1 824.0,222.2 824.7,223.8 825.3,224.3 826.0,225.3 826.7,224.3 827.3,224.4 828.0,222.5 828.6,224.1 829.3,220.3 829.9,220.1 830.7,220.4 831.5,218.9 832.2,220.0 833.0,219.0 834.0,222.2" fill="none" stroke="#b24c4c" stroke-width="2.8" stroke-linejoin="round" stroke-linecap="round"/>
<polyline points="75.4,281.0 76.1,281.4 76.7,281.4 77.3,283.1 78.0,282.5 78.7,283.0 79.3,281.7 80.0,282.0 80.8,283.6 81.5,282.0 82.2,283.4 83.0,284.0 83.8,285.1 84.5,284.1 85.2,285.9 86.0,285.5 86.7,284.9 87.3,283.9 88.0,284.0 88.7,284.1 89.3,282.1 90.0,282.5 90.8,282.8 91.5,281.0 92.2,282.0 93.0,282.0 93.8,281.9 94.5,281.5 95.2,283.1 96.0,283.0 96.8,284.4 97.5,284.4 98.2,286.3 99.0,286.5 99.8,288.7 100.5,287.9 101.2,290.0 102.0,289.0 102.8,290.0 103.6,289.1 104.4,290.2 105.1,290.7 105.8,288.1 106.5,289.6 107.2,288.3 107.9,288.1 108.6,286.3 109.3,287.7 110.0,285.5 110.7,285.4 111.4,284.6 112.1,285.9 112.8,285.2 113.5,285.5 114.2,285.8 114.9,287.0 115.6,286.4 116.3,286.7 117.1,287.3 117.8,289.0 118.6,289.2 119.3,290.2 120.0,292.8 120.8,292.9 121.5,295.0 122.3,294.5 123.0,296.7 123.8,296.9 124.5,297.4 125.3,299.2 126.0,297.9 126.8,299.5 127.5,298.9 128.2,297.0 128.9,298.1 129.6,295.6 130.3,296.9 131.0,294.7 131.7,296.2 132.4,294.9 133.1,295.2 133.8,294.3 134.5,295.5 135.2,293.7 135.9,295.5 136.6,294.2 137.3,296.6 138.0,296.7 138.7,297.5 139.3,295.3 140.0,296.4 140.7,297.5 141.3,296.7 142.0,299.2 142.7,298.1 143.3,299.2 144.0,299.2 144.7,300.8 145.4,300.2 146.0,302.2 146.7,300.9 147.4,302.0 148.1,302.1 148.9,300.1 149.6,299.4 150.3,298.0 151.0,298.4 151.7,297.4 152.3,298.4 153.0,298.5 153.8,298.7 154.6,296.1 155.4,296.2 156.0,297.3 156.7,296.4 157.3,297.1 158.0,295.4 158.6,296.5 159.3,297.4 159.9,297.2 160.6,298.0 161.3,298.5 162.0,296.8 162.8,299.0 163.5,298.2 164.2,298.5 164.9,298.1 165.7,297.5 166.4,297.7 167.0,296.9 167.7,298.3 168.3,296.4 169.0,297.1 169.7,296.9 170.3,297.7 171.0,297.4 171.7,298.7 172.4,295.8 173.1,297.2 173.8,295.2 174.5,296.0 175.2,294.3 175.9,296.5 176.6,294.1 177.3,295.5 178.0,295.5 178.7,296.2 179.4,297.6 180.1,296.0 180.9,297.3 181.6,296.0 182.3,297.4 183.0,296.0 183.7,296.5 184.4,296.9 185.0,296.2 185.7,297.6 186.3,296.4 187.0,297.7 187.8,298.7 188.6,296.7 189.3,299.5 190.1,298.0 190.8,299.5 191.5,298.1 192.2,298.5 193.0,298.6 193.8,296.3 194.5,297.2 195.3,295.0 195.9,295.6 196.6,293.4 197.2,295.6 197.8,294.8 198.5,295.9 199.1,294.2 199.8,295.2 200.4,293.5 201.1,293.2 201.9,291.8 202.6,292.5 203.4,290.8 204.1,292.7 204.9,291.9 205.6,292.5 206.3,293.5 207.1,293.4 207.8,294.8 208.5,293.2 209.3,294.9 210.0,293.5 210.6,294.8 211.3,293.2 211.9,295.0 212.6,293.9 213.2,295.6 214.0,294.4 214.8,292.8 215.5,292.6 216.3,291.4 216.9,291.3 217.6,289.7 218.2,290.7 218.9,287.4 219.5,288.3 220.2,289.1 220.9,286.7 221.6,286.2 222.3,288.5 223.0,288.3 223.7,290.4 224.4,288.8 225.1,285.3 225.8,284.1 226.5,283.5 227.1,282.3 227.8,282.7 228.4,282.0 229.1,283.7 229.7,283.1 230.3,284.4 231.0,284.6 231.7,287.0 232.4,286.7 233.1,289.3 233.8,288.5 234.5,285.1 235.2,285.1 235.9,285.6 236.6,284.4 237.2,285.0 237.9,284.6 238.6,284.4 239.2,282.6 239.8,283.1 240.5,282.0 241.2,281.6 241.9,278.8 242.6,278.8 243.2,279.6 243.9,276.7 244.5,278.4 245.2,276.7 245.9,276.1 246.6,274.3 247.2,275.3 247.9,274.6 248.6,275.1 249.3,272.7 250.0,273.6 250.8,273.3 251.5,270.4 252.3,269.7 253.1,269.4 253.8,268.8 254.5,267.5 255.2,266.2 256.0,267.9 256.8,268.3 257.6,273.0 258.4,275.7 259.1,278.5 259.9,279.9 260.6,281.3 261.2,280.3 261.9,283.3 262.6,283.0 263.4,283.5 264.1,283.5 264.9,284.1 265.7,283.6 266.3,285.2 267.0,283.0 267.6,283.9 268.3,283.4 268.9,283.0 269.7,285.4 270.4,285.1 271.2,287.1 272.0,287.2 272.7,288.8 273.4,290.7 274.1,292.5 274.8,295.2 275.5,297.3 276.2,298.8 276.9,301.2 277.7,301.5 278.4,304.1 279.0,304.6 279.7,304.5 280.4,306.9 281.0,307.0 281.7,309.3 282.4,309.6 283.1,311.1 283.8,312.5 284.6,312.9 285.3,315.4 286.1,314.7 286.8,316.7 287.5,319.2 288.2,320.1 288.9,324.4 289.6,326.1 290.3,326.0 291.0,323.2 291.7,323.8 292.4,322.3 293.2,323.7 293.9,322.6 294.7,324.4 295.4,324.1 296.2,324.2 296.9,323.8 297.7,322.4 298.4,323.2 299.2,321.9 299.9,322.3 300.6,322.7 301.4,322.1 302.1,324.1 302.9,323.3 303.6,325.1 304.4,325.4 305.1,324.1 305.9,324.0 306.6,323.3 307.4,323.3 308.1,323.3 308.9,321.6 309.6,321.6 310.4,320.8 311.1,321.4 311.9,322.2 312.6,320.5 313.4,321.2 314.1,318.6 314.9,319.5 315.6,318.5 316.4,317.4 317.1,317.9 317.9,316.6 318.6,316.7 319.3,316.8 320.1,314.6 320.8,316.5 321.6,313.9 322.3,314.9 323.1,315.1 323.8,314.6 324.6,314.8 325.3,313.4 326.1,313.9 326.8,316.6 327.6,316.1 328.3,317.8 329.1,317.6 329.8,320.5 330.6,320.4 331.3,319.2 332.1,319.8 332.8,316.9 333.6,315.8 334.3,317.3 335.1,316.1 335.8,317.5 336.6,317.2 337.3,316.7 338.0,317.0 338.8,315.9 339.5,318.0 340.3,317.1 341.0,318.6 341.8,319.8 342.5,318.3 343.3,319.3 344.0,319.6 344.8,320.5 345.5,320.6 346.3,319.2 347.0,319.7 347.8,317.8 348.5,317.7 349.2,317.5 350.0,316.0 350.7,316.3 351.5,315.1 352.2,314.9 353.0,315.9 353.7,314.4 354.5,315.7 355.2,315.0 356.0,315.8 356.7,315.8 357.5,314.0 358.2,315.2 359.0,313.7 359.7,313.9 360.5,314.1 361.2,311.6 362.0,312.8 362.7,310.5 363.5,311.1 364.2,311.7 365.0,310.0 365.7,310.3 366.5,308.4 367.2,308.3 367.9,309.1 368.7,308.7 369.4,308.9 370.2,308.6 370.9,310.2 371.7,310.1 372.4,308.2 373.2,308.7 373.9,307.6 374.7,307.4 375.4,307.8 376.2,306.5 376.9,307.4 377.7,307.5 378.4,307.4 379.1,307.4 379.9,306.6 380.6,307.8 381.4,306.0 382.1,306.4 382.9,307.4 383.6,305.7 384.4,306.5 385.1,305.6 385.9,305.5 386.6,305.7 387.4,305.7 388.1,306.7 388.9,305.3 389.6,306.4 390.4,307.2 391.1,304.8 391.9,305.4 392.6,303.5 393.4,304.6 394.1,305.9 394.9,305.6 395.6,308.0 396.4,307.2 397.1,308.3 397.8,308.2 398.6,305.7 399.3,304.9 400.1,302.9 400.8,302.7 401.6,304.1 402.3,304.1 403.1,305.9 403.8,305.3 404.6,306.4 405.3,306.5 406.1,305.1 406.8,305.5 407.6,304.0 408.3,304.6 409.1,306.2 409.8,303.5 410.6,304.7 411.3,303.7 412.1,303.6 412.8,303.9 413.6,303.5 414.3,305.3 415.1,304.1 415.8,305.5 416.5,304.8 417.3,304.1 418.0,304.8 418.8,303.3 419.5,303.6 420.3,303.8 421.0,303.4 421.8,304.8 422.5,302.3 423.3,302.7 424.0,302.5 424.6,300.9 425.3,302.4 425.9,302.1 426.6,302.4 427.2,300.9 427.9,300.8 428.5,300.5 429.2,298.9 429.8,299.2 430.6,297.4 431.3,295.2 432.1,296.0 432.8,293.9 433.6,293.6 434.3,294.2 435.0,292.2 435.7,293.2 436.4,291.0 437.1,292.6 437.8,291.0 438.5,292.1 439.2,289.9 439.9,290.5 440.6,289.5 441.3,290.5 442.0,289.6 442.7,290.1 443.4,289.0 444.1,290.1 444.8,288.9 445.5,289.4 446.2,287.3 446.9,288.5 447.6,286.1 448.3,287.4 449.0,286.5 449.7,288.2 450.4,286.1 451.1,287.5 451.8,286.1 452.5,287.7 453.2,287.3 453.9,289.3 454.6,288.9 455.3,290.5 456.0,289.9 456.7,290.5 457.4,289.1 458.1,291.1 458.8,289.6 459.5,289.7 460.2,288.4 460.9,288.4 461.6,288.9 462.3,290.5 463.1,291.1 463.8,293.2 464.6,292.8 465.3,294.5 466.0,295.4 466.7,293.3 467.4,296.1 468.1,293.6 468.8,294.6 469.5,293.6 470.2,294.8 470.9,293.6 471.6,294.1 472.3,293.6 473.0,294.2 473.7,292.4 474.4,293.3 475.1,292.3 475.8,292.7 476.5,291.7 477.2,293.3 477.9,292.3 478.6,293.7 479.3,293.2 480.0,294.8 480.7,294.3 481.4,296.0 482.1,295.5 482.9,296.3 483.6,295.9 484.4,296.9 485.1,297.2 485.9,298.3 486.6,298.0 487.3,296.4 488.0,297.7 488.7,296.6 489.4,297.9 490.1,296.3 490.8,296.6 491.5,294.5 492.2,295.5 493.0,295.2 493.7,297.9 494.5,297.1 495.2,299.2 495.9,299.9 496.6,298.2 497.3,299.7 498.0,296.6 498.7,298.5 499.4,296.4 500.1,297.9 500.8,297.3 501.5,298.0 502.2,297.4 502.9,298.8 503.6,297.2 504.3,297.0 505.0,296.5 505.7,297.3 506.4,296.4 507.1,296.7 507.8,295.4 508.5,296.6 509.2,294.8 510.0,296.8 510.7,295.7 511.4,296.3 512.1,295.5 512.8,295.6 513.5,293.8 514.2,296.1 514.9,293.9 515.6,295.1 516.3,292.9 517.0,293.4 517.7,292.7 518.4,293.7 519.1,291.3 519.8,293.6 520.5,292.2 521.2,294.2 521.9,292.9 522.6,294.6 523.3,293.6 524.0,293.7 524.7,291.7 525.4,293.7 526.1,294.0 526.8,294.4 527.5,293.9 528.2,293.6 528.9,293.5 529.5,295.0 530.2,294.3 530.9,295.6 531.6,294.4 532.3,296.2 533.0,295.6 533.6,297.2 534.3,295.8 535.0,296.7 535.7,298.1 536.4,296.8 537.1,297.6 537.8,296.3 538.5,298.0 539.2,297.0 539.9,298.5 540.6,298.6 541.3,299.8 542.0,298.3 542.7,301.0 543.4,299.6 544.1,301.9 544.8,300.4 545.5,302.0 546.2,302.3 546.9,302.9 547.7,303.3 548.4,304.3 549.2,303.4 549.9,305.1 550.6,302.6 551.3,299.7 552.0,299.2 552.7,296.7 553.4,296.5 554.1,294.2 554.8,294.3 555.5,291.1 556.2,292.7 556.9,290.0 557.6,292.1 558.3,290.1 559.0,291.0 559.7,289.5 560.4,290.5 561.1,292.0 561.8,293.5 562.5,291.5 563.2,293.0 563.9,291.5 564.6,293.2 565.3,292.6 566.0,294.4 566.7,293.9 567.4,294.4 568.1,292.9 568.8,295.7 569.5,294.2 570.2,295.5 570.9,294.3 571.6,297.0 572.3,296.7 573.0,298.1 573.7,297.5 574.4,298.5 575.1,297.8 575.8,298.3 576.5,297.5 577.2,298.8 577.9,298.6 578.6,299.8 579.3,298.5 580.0,299.7 580.8,298.7 581.5,299.9 582.2,298.7 582.9,299.7 583.6,299.5 584.3,299.5 585.0,299.4 585.7,300.1 586.4,299.2 587.1,301.2 587.8,300.6 588.5,301.3 589.2,301.4 589.9,301.9 590.6,299.3 591.3,301.0 592.0,298.7 592.7,299.8 593.4,298.6 594.1,300.7 594.8,300.4 595.5,300.8 596.2,300.1 596.9,300.7 597.6,299.1 598.3,301.1 599.0,300.8 599.7,301.8 600.4,301.4 601.1,302.1 601.8,300.2 602.5,301.1 603.2,300.1 603.9,301.4 604.6,299.5 605.3,299.1 606.0,298.6 606.7,299.3 607.4,299.1 608.1,301.2 608.8,300.5 609.5,303.4 610.2,303.0 610.9,303.9 611.6,304.2 612.3,304.6 613.0,303.2 613.7,303.6 614.4,302.3 615.1,303.9 615.8,302.6 616.5,303.9 617.2,302.3 617.9,302.1 618.6,301.5 619.3,302.4 620.0,302.5 620.7,304.1 621.4,303.8 622.1,304.7 622.8,305.1 623.5,305.3 624.2,305.1 624.9,304.9 625.6,303.6 626.3,304.6 627.0,302.9 627.7,303.4 628.4,303.2 629.1,304.5 629.8,303.1 630.5,305.0 631.2,303.7 631.9,303.7 632.6,302.9 633.3,304.5 634.0,303.2 634.7,303.8 635.4,303.9 636.1,304.3 636.8,304.3 637.5,306.0 638.2,305.9 638.9,307.5 639.6,307.0 640.3,308.2 641.0,307.0 641.7,308.0 642.4,307.6 643.1,309.3 643.8,307.9 644.5,309.3 645.2,308.8 645.9,309.2 646.6,308.1 647.3,310.6 648.0,309.5 648.7,310.7 649.4,310.3 650.1,311.3 650.8,310.7 651.5,311.7 652.2,309.6 652.9,310.7 653.6,309.4 654.3,311.4 655.0,309.7 655.7,311.0 656.4,310.7 657.1,311.5 657.8,310.4 658.5,312.4 659.2,309.9 660.0,312.2 660.7,311.1 661.4,312.4 662.1,311.6 662.8,312.5 663.5,309.8 664.2,310.9 664.9,308.5 665.6,310.8 666.3,308.7 667.0,310.0 667.7,308.8 668.5,307.2 669.2,305.7 670.0,306.1 670.7,306.7 671.4,305.1 672.1,306.2 672.8,304.0 673.5,303.4 674.2,303.0 674.9,303.7 675.6,303.6 676.3,304.6 677.0,304.5 677.7,304.6 678.4,304.0 679.1,303.9 679.8,302.4 680.5,303.6 681.1,301.6 681.8,302.7 682.5,301.9 683.2,302.9 683.9,301.8 684.6,302.9 685.3,302.0 686.0,303.0 686.7,302.6 687.4,302.7 688.1,301.7 688.8,302.1 689.5,301.1 690.2,303.0 690.9,301.9 691.6,302.6 692.4,300.5 693.1,302.6 693.9,301.5 694.6,302.4 695.4,300.3 696.1,299.9 696.8,300.8 697.6,300.2 698.3,303.6 699.1,302.3 699.8,303.4 700.6,302.7 701.3,304.0 702.0,304.9 702.6,304.7 703.3,304.9 704.0,303.8 704.6,305.6 705.3,304.4 705.9,305.2 706.6,305.1 707.3,305.9 708.1,304.4 708.8,304.5 709.6,303.8 710.3,304.6 711.1,302.7 711.8,303.0 712.5,303.3 713.3,302.3 714.0,303.5 714.8,301.7 715.5,304.3 716.3,303.2 717.0,303.4 717.7,304.6 718.4,304.0 719.1,306.4 719.8,305.5 720.5,306.7 721.2,306.8 721.9,307.0 722.6,305.3 723.3,307.4 724.0,305.7 724.7,307.7 725.4,305.5 726.2,306.5 727.0,305.6 727.7,307.6 728.5,307.2 729.1,308.7 729.8,309.9 730.4,312.0 731.1,312.0 731.7,313.4 732.5,314.5 733.2,314.4 734.0,316.0 734.8,315.5 735.5,315.9 736.2,314.6 736.9,316.7 737.6,316.2 738.3,318.3 739.0,317.2 739.7,316.4 740.4,315.4 741.0,315.7 741.7,313.5 742.4,313.9 743.1,313.4 743.8,313.4 744.5,312.4 745.2,313.0 745.9,311.2 746.6,312.7 747.3,312.4 748.0,312.3 748.7,310.7 749.4,313.4 750.1,311.9 750.8,312.0 751.5,313.0 752.2,312.7 752.9,311.1 753.6,311.9 754.3,308.6 755.0,310.8 755.7,309.3 756.4,310.3 757.1,309.2 757.8,310.7 758.5,309.0 759.2,311.0 759.9,310.9 760.6,311.9 761.4,310.4 762.1,311.4 762.9,310.8 763.6,311.0 764.4,310.7 765.1,311.3 765.8,312.2 766.6,311.2 767.3,312.8 768.1,311.6 768.8,312.6 769.6,312.1 770.3,312.4 771.0,312.8 771.7,312.1 772.4,313.9 773.1,311.9 773.8,313.3 774.5,313.4 775.3,315.1 776.0,314.9 776.8,318.5 777.6,318.7 778.2,319.4 778.9,318.8 779.5,320.3 780.2,320.0 780.8,320.8 781.4,323.1 782.0,324.0 782.7,326.2 783.3,328.1 784.1,325.0 784.9,321.8 785.6,321.8 786.3,322.4 787.0,323.1 787.7,322.7 788.4,323.7 789.1,323.5 789.8,323.9 790.5,322.1 791.2,322.4 791.9,322.0 792.6,323.5 793.3,322.8 794.0,323.4 794.7,322.4 795.4,323.7 796.1,322.1 796.8,323.4 797.5,321.8 798.2,322.9 798.9,322.5 799.6,324.1 800.3,322.4 801.0,324.1 801.7,323.9 802.5,324.9 803.2,326.2 804.0,327.5 804.8,327.0 805.6,328.5 806.3,326.5 807.1,328.5 807.9,329.1 808.5,329.2 809.2,329.0 809.8,330.5 810.5,329.5 811.1,330.2 811.8,332.2 812.5,333.1 813.1,334.7 813.8,335.4 814.4,336.2 815.0,334.5 815.7,334.5 816.3,333.3 817.0,335.3 817.7,336.1 818.4,338.5 819.2,337.9 820.0,335.6 820.7,336.0 821.5,334.3 822.1,333.7 822.8,331.3 823.4,333.0 824.1,330.4 824.7,330.6 825.5,331.6 826.2,330.7 827.0,331.7 827.8,331.2 828.5,332.9 829.2,332.7 829.9,334.3 830.6,333.8 831.3,331.0 832.0,330.2 832.7,330.8 833.3,328.8 834.0,329.1" fill="none" stroke="#e39c5c" stroke-width="2.8" stroke-linejoin="round" stroke-linecap="round"/>
<polyline points="75.4,284.6 76.1,285.2 76.8,284.9 77.5,286.2 78.1,285.6 78.8,285.5 79.5,285.3 80.2,286.1 80.9,285.1 81.6,285.6 82.3,285.4 83.0,285.9 83.6,285.7 84.3,286.3 85.0,285.8 85.7,285.9 86.4,286.1 87.1,285.9 87.8,286.7 88.6,285.9 89.3,287.2 90.0,286.4 90.7,287.2 91.4,286.5 92.1,286.9 92.9,286.2 93.6,287.1 94.3,286.5 95.0,287.0 95.7,287.1 96.4,286.6 97.2,287.4 97.9,287.2 98.6,287.4 99.3,286.8 100.1,288.1 100.8,287.4 101.5,288.0 102.2,287.4 103.0,287.8 103.7,287.1 104.4,287.4 105.1,287.8 105.8,286.8 106.5,287.6 107.3,286.6 108.0,287.4 108.7,286.0 109.4,286.6 110.1,285.7 110.8,285.8 111.6,285.2 112.3,286.3 113.0,285.8 113.7,285.9 114.4,286.1 115.1,284.9 115.8,285.4 116.6,284.8 117.3,285.3 118.0,284.7 118.7,284.5 119.4,284.2 120.1,284.8 120.9,284.1 121.6,284.3 122.3,284.0 123.0,284.6 123.7,284.4 124.4,283.9 125.2,284.1 125.9,283.5 126.6,284.5 127.3,284.0 128.1,284.6 128.8,283.5 129.5,283.7 130.2,283.4 131.0,283.7 131.7,283.2 132.4,283.6 133.1,283.8 133.8,283.3 134.5,283.4 135.2,282.8 135.9,283.5 136.5,282.7 137.2,283.4 137.9,282.2 138.6,282.8 139.3,282.1 140.0,282.3 140.7,283.1 141.4,282.9 142.1,283.5 142.8,282.6 143.6,283.9 144.3,283.5 145.0,284.2 145.7,284.3 146.4,284.2 147.1,284.7 147.8,284.3 148.6,284.1 149.3,283.7 150.0,284.7 150.7,283.6 151.5,284.1 152.2,283.8 152.9,283.6 153.6,284.1 154.3,283.3 155.0,283.5 155.7,283.5 156.5,284.1 157.2,283.6 157.9,284.0 158.6,282.5 159.3,282.9 160.0,283.2 160.7,283.0 161.4,283.1 162.1,282.7 162.9,284.1 163.6,282.9 164.3,284.2 165.0,283.5 165.7,284.2 166.4,285.1 167.1,284.4 167.8,284.8 168.5,284.1 169.3,285.2 170.0,285.0 170.7,285.6 171.4,285.5 172.1,285.5 172.8,285.9 173.5,285.6 174.3,286.6 175.0,285.8 175.7,287.2 176.4,286.4 177.2,286.8 177.9,286.5 178.6,286.8 179.3,287.1 180.0,287.0 180.7,287.5 181.4,286.2 182.2,287.2 182.9,286.5 183.6,286.4 184.3,285.5 185.0,285.5 185.7,286.2 186.4,285.1 187.1,285.5 187.8,284.2 188.6,285.0 189.3,284.2 190.0,284.4 190.7,284.0 191.4,284.2 192.1,284.3 192.8,283.8 193.5,284.2 194.2,284.0 195.0,284.1 195.7,283.5 196.4,283.7 197.1,282.8 197.8,282.9 198.5,283.2 199.2,282.4 200.0,283.0 200.7,282.2 201.4,282.5 202.1,282.2 202.9,283.0 203.6,282.1 204.3,282.3 205.0,282.6 205.7,281.6 206.4,282.3 207.2,281.6 207.9,281.8 208.6,281.1 209.3,281.9 210.0,281.5 210.7,281.3 211.3,280.7 212.0,281.0 212.7,281.1 213.3,281.5 214.0,281.2 214.6,281.6 215.3,280.9 216.0,281.2 216.8,280.3 217.5,280.7 218.3,279.9 219.0,280.5 219.8,280.4 220.5,280.4 221.2,280.4 221.8,279.9 222.5,280.1 223.2,279.3 223.8,280.1 224.5,278.6 225.1,279.3 225.8,279.4 226.5,279.5 227.3,278.8 228.0,279.9 228.8,279.2 229.5,280.0 230.3,278.9 231.0,279.4 231.7,279.5 232.3,278.5 233.0,279.0 233.7,279.2 234.3,279.9 235.0,279.3 235.6,280.0 236.3,279.9 237.0,280.1 237.8,279.5 238.5,280.8 239.3,280.7 240.0,281.3 240.8,280.3 241.5,280.4 242.2,280.5 242.8,280.2 243.5,280.2 244.2,280.0 244.8,281.6 245.5,281.1 246.1,281.9 246.8,281.5 247.5,281.5 248.1,281.2 248.8,282.0 249.4,281.4 250.1,282.1 250.8,281.9 251.4,282.5 252.1,282.5 252.9,282.9 253.6,282.2 254.4,283.3 255.2,283.0 255.9,282.9 256.6,282.5 257.3,283.3 258.0,282.3 258.7,282.6 259.4,282.0 260.0,281.8 260.7,281.1 261.3,281.6 262.0,280.5 262.6,280.9 263.3,281.4 264.0,280.3 264.7,280.9 265.4,279.8 266.1,280.4 266.8,279.9 267.5,280.3 268.2,279.2 268.9,280.0 269.6,279.0 270.3,280.0 271.0,279.9 271.7,279.5 272.4,278.9 273.1,278.1 273.8,277.2 274.5,277.5 275.2,276.7 275.9,277.1 276.5,276.4 277.2,277.1 277.8,276.3 278.5,276.6 279.1,276.0 279.8,276.2 280.5,276.0 281.3,275.0 282.0,276.1 282.8,274.7 283.5,275.2 284.3,274.2 285.0,274.5 285.7,274.3 286.4,273.2 287.1,273.3 287.9,273.0 288.6,273.7 289.3,272.4 290.0,272.3 290.7,272.7 291.5,272.2 292.2,272.7 292.9,272.2 293.6,273.3 294.4,273.3 295.1,273.5 295.8,274.1 296.5,273.5 297.2,274.0 297.8,273.1 298.5,273.9 299.2,273.5 299.9,273.7 300.7,274.1 301.4,272.5 302.2,272.4 302.9,272.4 303.7,271.5 304.4,272.5 305.2,271.6 305.9,272.2 306.7,271.4 307.4,272.0 308.1,272.4 308.7,271.8 309.4,272.5 310.0,272.4 310.7,272.6 311.3,271.9 312.0,272.2 312.7,271.8 313.5,271.2 314.2,272.0 315.0,270.9 315.7,271.7 316.5,270.9 317.2,270.8 317.9,271.1 318.7,270.5 319.4,271.3 320.1,270.7 320.8,271.1 321.6,270.7 322.3,271.2 323.1,272.1 323.9,271.0 324.7,272.2 325.4,272.8 326.2,271.5 326.9,271.8 327.6,270.6 328.3,270.6 329.1,270.4 329.8,270.3 330.6,270.3 331.3,269.7 332.1,269.6 332.8,269.4 333.5,268.4 334.1,269.3 334.8,268.1 335.5,268.9 336.2,268.2 336.9,269.2 337.6,268.1 338.2,268.5 338.9,268.1 339.6,268.3 340.3,268.9 341.0,268.2 341.6,268.8 342.3,267.6 343.0,268.8 343.7,267.5 344.4,268.3 345.1,267.8 345.7,268.6 346.4,267.7 347.1,267.8 347.8,268.1 348.5,267.5 349.1,268.1 349.8,266.9 350.5,267.7 351.2,267.4 351.9,267.5 352.6,266.9 353.2,267.3 353.9,267.1 354.6,266.8 355.3,267.2 356.0,266.4 356.6,267.2 357.3,266.5 358.0,267.8 358.7,267.0 359.4,267.1 360.1,266.8 360.7,267.4 361.4,266.4 362.1,267.2 362.8,267.5 363.4,266.6 364.1,267.0 364.8,265.8 365.5,266.7 366.1,266.1 366.8,266.4 367.5,266.1 368.2,266.6 368.8,265.9 369.5,266.4 370.2,267.0 370.9,265.6 371.6,266.5 372.3,266.0 373.0,266.2 373.8,265.3 374.5,266.2 375.2,265.3 375.9,266.0 376.6,265.4 377.3,265.7 378.0,265.8 378.7,266.2 379.4,265.7 380.1,265.9 380.8,264.9 381.5,265.4 382.2,265.5 382.9,265.8 383.6,265.2 384.3,265.5 385.0,265.2 385.7,265.2 386.3,264.4 387.0,265.7 387.7,265.0 388.4,265.7 389.0,265.2 389.7,266.3 390.4,265.1 391.1,265.9 391.7,265.2 392.4,265.6 393.2,265.0 393.9,264.4 394.7,264.8 395.4,263.3 396.2,263.9 396.9,263.6 397.6,263.1 398.3,263.5 399.0,262.7 399.7,263.5 400.4,263.7 401.1,263.8 401.8,264.2 402.5,264.5 403.2,264.0 403.8,264.3 404.5,264.1 405.2,264.4 405.9,263.4 406.6,263.9 407.3,262.6 407.9,263.2 408.6,262.8 409.3,262.6 410.0,263.3 410.7,261.8 411.4,262.5 412.1,261.4 412.8,261.2 413.5,260.5 414.2,261.2 414.9,260.5 415.6,260.9 416.2,260.6 416.9,261.5 417.5,261.0 418.2,262.0 418.8,261.6 419.5,262.5 420.2,262.6 420.8,261.6 421.5,262.4 422.2,261.2 422.8,261.7 423.5,260.7 424.2,261.4 424.9,261.1 425.6,262.5 426.3,262.4 427.0,263.1 427.7,262.6 428.4,263.9 429.1,263.0 429.8,263.7 430.5,263.9 431.3,264.4 432.0,265.3 432.8,264.9 433.5,266.0 434.3,265.3 435.0,266.1 435.7,266.6 436.3,266.0 437.0,266.3 437.7,265.2 438.3,266.2 439.0,265.7 439.7,266.6 440.3,266.0 441.0,266.5 441.7,267.4 442.4,266.3 443.0,266.7 443.7,266.3 444.4,266.9 445.1,266.2 445.8,267.3 446.5,266.5 447.1,266.9 447.8,266.4 448.5,267.3 449.2,267.6 449.9,267.0 450.5,267.8 451.2,267.7 451.9,268.5 452.6,267.6 453.3,267.9 454.0,267.2 454.6,267.7 455.3,267.3 456.0,268.2 456.7,268.4 457.5,267.9 458.2,268.3 458.9,268.2 459.6,268.3 460.4,267.7 461.1,268.7 461.8,267.5 462.6,268.2 463.3,268.1 464.0,268.7 464.7,267.9 465.5,268.0 466.2,267.0 466.9,267.2 467.6,267.0 468.3,267.4 469.0,267.1 469.8,267.6 470.5,266.5 471.2,266.9 471.9,267.9 472.6,267.1 473.3,267.8 474.0,267.3 474.7,267.9 475.5,267.4 476.2,268.2 476.9,267.6 477.6,268.5 478.3,268.0 479.0,268.8 479.7,268.4 480.4,267.0 481.2,266.8 481.9,265.2 482.6,265.5 483.4,264.5 484.1,264.3 484.8,263.6 485.5,263.8 486.2,263.3 486.9,263.7 487.5,263.6 488.2,264.1 488.9,263.4 489.6,263.7 490.3,264.6 491.1,263.8 491.8,264.5 492.5,263.9 493.2,264.4 494.0,264.1 494.7,264.4 495.4,265.0 496.1,264.3 496.8,265.2 497.5,264.9 498.2,265.8 498.9,265.7 499.6,267.0 500.3,266.4 501.0,267.2 501.7,268.2 502.4,267.9 503.1,269.1 503.8,269.5 504.5,270.2 505.2,270.4 505.9,271.1 506.6,271.2 507.3,271.0 508.0,269.3 508.7,269.5 509.4,268.2 510.2,268.2 510.9,266.5 511.6,266.3 512.3,265.6 513.0,265.4 513.7,264.8 514.5,265.2 515.2,264.6 515.9,264.6 516.6,263.4 517.3,264.3 518.1,263.1 518.8,263.9 519.5,263.7 520.2,263.9 521.0,263.1 521.7,263.6 522.4,262.8 523.1,262.9 523.9,261.9 524.6,261.6 525.3,260.3 526.0,261.3 526.8,260.1 527.5,260.2 528.2,260.5 528.9,260.6 529.5,260.6 530.2,260.8 530.9,261.3 531.6,260.8 532.3,261.8 533.0,261.3 533.6,261.8 534.3,261.6 535.0,262.1 535.7,261.8 536.3,261.5 537.0,262.4 537.7,261.0 538.4,261.8 539.0,260.7 539.7,261.1 540.4,260.2 541.1,260.6 541.7,258.9 542.4,259.3 543.1,260.2 543.8,259.9 544.5,260.7 545.2,260.5 545.9,261.7 546.6,260.9 547.3,261.6 548.0,261.2 548.7,260.8 549.4,260.2 550.1,260.1 550.8,258.9 551.5,259.6 552.2,258.1 552.9,259.0 553.6,258.4 554.3,258.5 555.0,257.3 555.6,257.8 556.3,256.8 557.0,257.4 557.7,257.1 558.4,257.1 559.1,256.7 559.7,257.0 560.4,256.2 561.1,256.5 561.8,256.9 562.5,256.1 563.1,256.3 563.8,255.6 564.5,255.9 565.2,255.2 565.9,255.3 566.6,254.6 567.2,255.3 567.9,254.6 568.6,254.6 569.3,254.8 570.0,254.0 570.6,254.3 571.3,253.8 572.0,254.2 572.7,253.7 573.4,253.9 574.1,253.6 574.7,254.4 575.4,253.4 576.1,253.7 576.8,254.0 577.5,252.7 578.1,253.0 578.8,252.6 579.5,253.1 580.2,252.7 580.9,253.1 581.6,252.2 582.2,252.6 582.9,251.7 583.6,251.8 584.3,252.4 584.9,251.6 585.6,252.6 586.3,251.6 587.0,252.6 587.6,251.5 588.3,252.8 589.0,252.5 589.7,252.8 590.3,252.8 591.0,252.8 591.7,252.6 592.4,252.0 593.0,252.2 593.7,251.5 594.4,251.8 595.1,250.9 595.8,251.8 596.5,251.3 597.1,251.3 597.8,251.0 598.5,250.9 599.2,250.9 599.9,250.7 600.5,251.3 601.2,249.7 601.9,250.6 602.6,249.5 603.3,250.4 604.0,248.9 604.6,249.8 605.3,248.5 606.0,249.0 606.7,249.6 607.4,248.6 608.1,249.1 608.8,248.0 609.5,248.8 610.2,247.6 610.9,248.0 611.6,247.1 612.3,247.4 613.0,247.3 613.7,248.0 614.4,247.1 615.1,248.4 615.8,248.1 616.5,248.8 617.2,249.0 617.9,249.9 618.6,249.8 619.3,251.1 620.0,251.1 620.7,251.6 621.4,251.4 622.1,252.5 622.8,252.8 623.5,252.7 624.2,252.0 624.9,252.0 625.6,251.2 626.3,251.4 627.0,250.8 627.7,250.7 628.4,250.0 629.1,250.1 629.8,249.6 630.5,250.4 631.2,249.9 631.9,251.3 632.6,250.3 633.3,250.8 634.0,250.9 634.7,251.3 635.4,250.5 636.1,252.1 636.8,251.7 637.5,252.1 638.2,251.2 638.9,252.3 639.6,251.8 640.3,251.5 641.0,250.4 641.7,250.9 642.4,249.7 643.1,250.2 643.8,249.0 644.5,249.4 645.2,249.0 645.9,249.0 646.6,248.2 647.3,248.5 648.0,248.0 648.7,248.2 649.4,247.7 650.1,248.2 650.8,248.1 651.5,248.4 652.2,247.6 652.9,248.1 653.6,248.0 654.3,247.9 655.0,247.6 655.7,248.7 656.4,248.1 657.1,249.1 657.8,248.2 658.5,248.9 659.2,248.1 660.0,248.4 660.7,248.0 661.4,248.7 662.1,248.1 662.8,248.2 663.5,246.9 664.2,247.2 664.9,246.5 665.6,247.1 666.3,246.8 667.0,246.8 667.7,246.2 668.4,246.2 669.1,245.5 669.8,245.8 670.5,244.5 671.2,244.9 671.9,244.6 672.6,245.1 673.3,244.3 674.0,244.2 674.8,243.8 675.5,243.9 676.2,242.9 676.9,244.1 677.7,243.6 678.4,243.1 679.1,243.0 679.8,241.8 680.5,242.1 681.2,241.0 681.9,241.8 682.5,241.5 683.2,242.2 683.9,241.4 684.6,241.8 685.3,240.9 686.0,241.1 686.7,241.0 687.4,240.9 688.1,240.1 688.8,241.2 689.5,240.6 690.2,240.9 690.9,239.6 691.6,240.4 692.3,239.6 693.0,239.8 693.7,239.3 694.4,239.2 695.1,238.9 695.8,239.1 696.5,238.4 697.2,238.4 697.9,237.6 698.6,238.9 699.2,237.9 699.9,237.8 700.6,237.0 701.3,237.3 702.0,236.4 702.7,236.9 703.4,236.8 704.1,237.3 704.8,236.3 705.5,236.5 706.2,235.6 706.9,235.9 707.6,235.1 708.3,235.1 709.0,234.9 709.7,234.9 710.4,233.7 711.1,234.0 711.8,233.7 712.5,234.1 713.2,233.6 713.9,234.7 714.6,234.3 715.3,234.5 716.0,233.7 716.7,234.2 717.4,233.3 718.1,234.5 718.8,233.7 719.5,233.8 720.2,233.7 720.9,233.8 721.6,232.8 722.3,233.2 723.0,232.5 723.6,232.6 724.3,231.7 725.0,232.3 725.7,231.1 726.4,231.6 727.1,231.6 727.8,230.5 728.5,230.7 729.2,230.2 729.9,230.6 730.6,230.0 731.3,229.9 732.0,229.9 732.7,229.5 733.4,229.5 734.1,228.8 734.8,229.3 735.5,228.0 736.2,228.6 736.9,228.0 737.6,228.2 738.3,226.9 739.0,227.4 739.7,227.3 740.4,227.0 741.1,227.3 741.8,226.0 742.4,226.5 743.1,225.2 743.8,226.1 744.5,225.3 745.2,225.3 745.9,225.4 746.6,224.1 747.3,224.7 748.0,224.2 748.7,224.3 749.4,223.4 750.1,223.7 750.8,222.5 751.5,222.2 752.2,222.5 752.9,222.0 753.6,222.9 754.3,221.6 755.0,222.7 755.7,222.2 756.4,223.0 757.1,222.7 757.8,223.4 758.5,223.8 759.2,224.6 759.9,224.3 760.7,225.3 761.5,226.1 762.2,227.7 763.0,228.4 763.7,229.4 764.5,228.9 765.2,229.9 766.0,229.6 766.7,230.9 767.5,231.3 768.2,232.2 768.9,232.1 769.6,231.7 770.3,232.5 771.0,231.6 771.7,232.4 772.4,231.6 773.1,231.1 773.8,230.2 774.5,230.7 775.2,229.9 775.9,229.7 776.6,229.5 777.3,229.5 778.0,228.7 778.7,229.4 779.4,228.7 780.1,229.1 780.8,228.4 781.5,229.2 782.2,228.2 782.9,228.4 783.6,228.7 784.3,227.9 785.0,228.9 785.7,228.1 786.3,228.9 787.0,228.1 787.7,228.7 788.4,228.5 789.1,228.4 789.8,228.6 790.5,228.1 791.2,228.5 791.9,227.6 792.6,228.2 793.3,227.0 794.0,227.8 794.7,227.2 795.4,227.4 796.1,227.8 796.8,226.6 797.5,227.3 798.2,226.8 798.9,227.3 799.6,226.8 800.3,226.9 801.0,225.7 801.7,226.3 802.4,227.3 803.1,226.5 803.8,226.5 804.5,226.0 805.1,226.8 805.8,226.3 806.5,227.0 807.2,227.3 807.9,227.4 808.6,227.5 809.3,226.7 810.0,226.9 810.7,225.7 811.4,226.2 812.1,225.5 812.8,226.3 813.5,226.1 814.2,226.3 814.9,226.2 815.6,225.2 816.3,225.8 817.0,224.9 817.7,225.3 818.4,224.2 819.1,224.6 819.8,224.1 820.5,224.3 821.2,224.2 821.9,223.1 822.6,223.8 823.3,222.9 823.9,222.8 824.6,222.0 825.3,222.7 826.0,221.8 826.7,222.2 827.4,222.3 828.1,222.2 828.8,222.3 829.5,221.3 830.2,221.7 830.9,221.1 831.7,221.8 832.5,222.2 833.2,222.5 834.0,223.2" fill="none" stroke="#1c5d8c" stroke-width="2.8" stroke-linejoin="round" stroke-linecap="round"/>
<line x1="267.4" y1="11.5" x2="267.4" y2="394" stroke="#b3b3b3" stroke-width="3"/>
<g transform="translate(53.3,0) scale(0.93,1)"><text x="0" y="15.5" text-anchor="end" font-family="Liberation Sans, Arial, sans-serif" fill="#5f5f5f" font-size="11.8">250,00%</text></g>
<g transform="translate(53.3,0) scale(0.93,1)"><text x="0" y="70.3" text-anchor="end" font-family="Liberation Sans, Arial, sans-serif" fill="#5f5f5f" font-size="11.8">200,00%</text></g>
<g transform="translate(53.3,0) scale(0.93,1)"><text x="0" y="125.1" text-anchor="end" font-family="Liberation Sans, Arial, sans-serif" fill="#5f5f5f" font-size="11.8">150,00%</text></g>
<g transform="translate(53.3,0) scale(0.93,1)"><text x="0" y="179.8" text-anchor="end" font-family="Liberation Sans, Arial, sans-serif" fill="#5f5f5f" font-size="11.8">100,00%</text></g>
<g transform="translate(53.3,0) scale(0.93,1)"><text x="0" y="234.5" text-anchor="end" font-family="Liberation Sans, Arial, sans-serif" fill="#5f5f5f" font-size="11.8">50,00%</text></g>
<g transform="translate(53.3,0) scale(0.93,1)"><text x="0" y="289.2" text-anchor="end" font-family="Liberation Sans, Arial, sans-serif" fill="#5f5f5f" font-size="11.8">0,00%</text></g>
<g transform="translate(53.3,0) scale(0.93,1)"><text x="0" y="343.9" text-anchor="end" font-family="Liberation Sans, Arial, sans-serif" fill="#5f5f5f" font-size="11.8">-50,00%</text></g>
<g transform="translate(53.3,0) scale(0.93,1)"><text x="0" y="398.3" text-anchor="end" font-family="Liberation Sans, Arial, sans-serif" fill="#5f5f5f" font-size="11.8">-100,00%</text></g>
<text x="70.7" y="413.3" text-anchor="middle" font-family="Liberation Sans, Arial, sans-serif" font-size="11.5" fill="#5f5f5f">2006</text>
<text x="144.5" y="413.3" text-anchor="middle" font-family="Liberation Sans, Arial, sans-serif" font-size="11.5" fill="#5f5f5f">2007</text>
<text x="218.4" y="413.3" text-anchor="middle" font-family="Liberation Sans, Arial, sans-serif" font-size="11.5" fill="#5f5f5f">2008</text>
<text x="292.2" y="413.3" text-anchor="middle" font-family="Liberation Sans, Arial, sans-serif" font-size="11.5" fill="#5f5f5f">2009</text>
<text x="366.0" y="413.3" text-anchor="middle" font-family="Liberation Sans, Arial, sans-serif" font-size="11.5" fill="#5f5f5f">2010</text>
<text x="439.8" y="413.3" text-anchor="middle" font-family="Liberation Sans, Arial, sans-serif" font-size="11.5" fill="#5f5f5f">2011</text>
<text x="513.7" y="413.3" text-anchor="middle" font-family="Liberation Sans, Arial, sans-serif" font-size="11.5" fill="#5f5f5f">2012</text>
<text x="587.5" y="413.3" text-anchor="middle" font-family="Liberation Sans, Arial, sans-serif" font-size="11.5" fill="#5f5f5f">2013</text>
<text x="661.3" y="413.3" text-anchor="middle" font-family="Liberation Sans, Arial, sans-serif" font-size="11.5" fill="#5f5f5f">2014</text>
<text x="735.2" y="413.3" text-anchor="middle" font-family="Liberation Sans, Arial, sans-serif" font-size="11.5" fill="#5f5f5f">2015</text>
<text x="809.0" y="413.3" text-anchor="middle" font-family="Liberation Sans, Arial, sans-serif" font-size="11.5" fill="#5f5f5f">2016</text>
<rect x="133" y="82.3" width="257" height="44.3" fill="#f6f6f6" stroke="#a9a9a9" stroke-width="2"/>
<polygon points="261.4,127.3 273.6,127.3 267.4,134" fill="#a9a9a9"/>
<g transform="scale(1.170,1)"><text x="139.40 147.61 156.67 164.96 173.16 182.56 190.43 198.97 207.78 216.24" y="101.6" font-family="DejaVu Sans, Verdana, sans-serif" font-size="13" fill="#6c6c6c" stroke="#6c6c6c" stroke-width="0.3">15<tspan font-family="DejaVu Sans Mono, monospace" font-size="14">/</tspan>09<tspan font-family="DejaVu Sans Mono, monospace" font-size="14">/</tspan>2008</text></g>
<g transform="scale(1.170,1)"><text x="138.80" y="118.5" font-family="DejaVu Sans, Verdana, sans-serif" font-size="13" fill="#6c6c6c" stroke="#6c6c6c" stroke-width="0.3" textLength="175.64" lengthAdjust="spacing">Lehmann Brothers Default</text></g>
</g></svg></div>
</body></html>
